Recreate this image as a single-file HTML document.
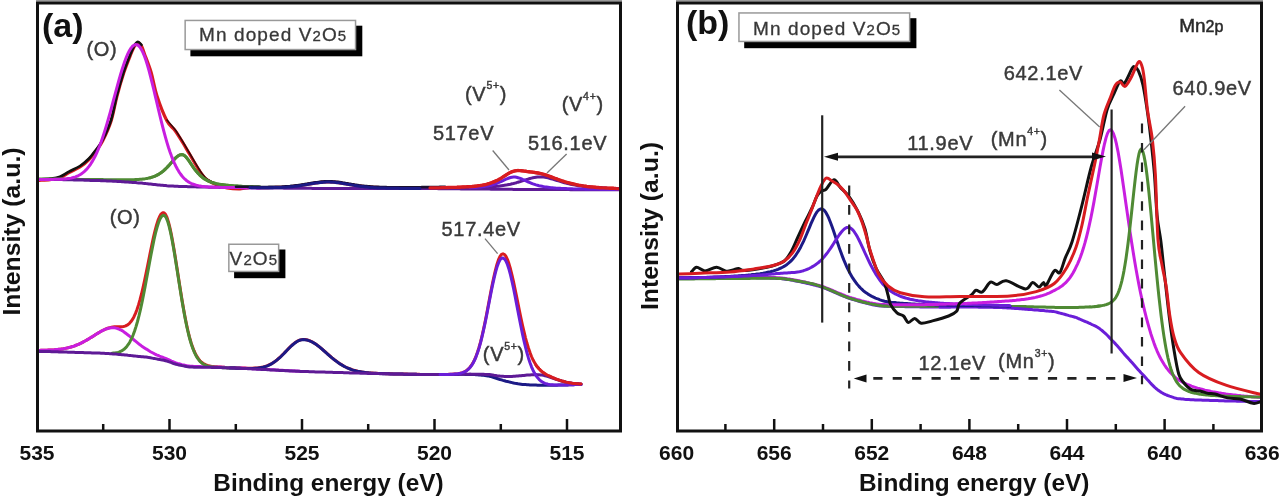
<!DOCTYPE html>
<html><head><meta charset="utf-8"><style>
html,body{margin:0;padding:0;background:#fff;}
body{width:1280px;height:497px;overflow:hidden;position:relative;font-family:"Liberation Sans",sans-serif;}
svg{position:absolute;left:0;top:0;filter:blur(0.35px);}
</style></head><body>
<svg width="1280" height="497" viewBox="0 0 1280 497">
<rect x="0" y="0" width="1280" height="497" fill="#fff"/>
<g fill="none" stroke-width="3" stroke-linejoin="round" stroke-linecap="round">
<path d="M38.0,180.5 C40.0,180.3 46.3,180.1 50.0,179.6 C53.7,179.1 56.8,178.8 60.0,177.6 C63.2,176.4 65.7,174.4 69.0,172.6 C72.3,170.8 76.7,169.2 80.0,167.0 C83.3,164.8 86.3,162.2 89.0,159.5 C91.7,156.8 93.9,153.6 96.2,150.5 C98.5,147.4 100.1,145.9 102.6,141.0 C105.1,136.1 108.7,128.5 111.1,121.0 C113.5,113.5 114.9,104.0 117.0,96.0 C119.1,88.0 121.5,79.8 123.7,73.0 C126.0,66.2 128.7,59.5 130.5,55.0 C132.3,50.5 133.2,48.2 134.5,46.2 C135.8,44.2 136.8,42.8 138.0,42.8 C139.2,42.8 140.4,44.1 141.5,46.0 C142.6,47.9 142.9,49.7 144.5,54.0 C146.1,58.3 148.9,65.0 151.0,72.0 C153.1,79.0 154.3,87.8 157.0,96.0 C159.7,104.2 164.0,115.2 167.0,121.0 C170.0,126.8 172.3,126.8 175.0,130.5 C177.7,134.2 180.6,139.1 183.0,143.0 C185.4,146.9 186.8,149.5 189.5,154.0 C192.2,158.5 196.2,165.8 199.0,170.0 C201.8,174.2 203.2,176.6 206.0,179.0 C208.8,181.4 212.5,183.0 216.0,184.5 C219.5,186.0 223.0,187.1 227.0,187.8 C231.0,188.5 236.2,188.9 240.0,188.8 C243.8,188.7 247.8,187.7 250.0,187.5 C252.2,187.3 252.0,187.5 253.0,187.5 C254.0,187.5 255.0,187.5 256.0,187.5 C257.0,187.5 258.0,187.5 259.0,187.6 C260.0,187.6 261.0,187.6 262.0,187.6 C263.0,187.6 264.0,187.6 265.0,187.6 C266.0,187.6 267.0,187.6 268.0,187.6 C269.0,187.5 270.0,187.5 271.0,187.5 C272.0,187.5 273.0,187.5 274.0,187.5 C275.0,187.5 276.0,187.4 277.0,187.4 C278.0,187.4 279.0,187.4 280.0,187.3 C281.0,187.3 282.0,187.2 283.0,187.2 C284.0,187.1 285.0,187.1 286.0,187.0 C287.0,186.9 288.0,186.9 289.0,186.8 C290.0,186.7 291.0,186.6 292.0,186.5 C293.0,186.4 294.0,186.3 295.0,186.2 C296.0,186.0 297.0,185.9 298.0,185.8 C299.0,185.7 300.0,185.5 301.0,185.4 C302.0,185.2 303.0,185.0 304.0,184.9 C305.0,184.7 306.0,184.5 307.0,184.4 C308.0,184.2 309.0,184.0 310.0,183.9 C311.0,183.7 312.0,183.5 313.0,183.4 C314.0,183.2 315.0,183.0 316.0,182.9 C317.0,182.8 318.0,182.6 319.0,182.5 C320.0,182.4 321.0,182.3 322.0,182.2 C323.0,182.1 324.0,182.0 325.0,182.0 C326.0,181.9 327.0,181.9 328.0,181.9 C329.0,181.9 330.0,181.9 331.0,181.9 C332.0,182.0 333.0,182.0 334.0,182.1 C335.0,182.2 336.0,182.3 337.0,182.4 C338.0,182.5 339.0,182.7 340.0,182.8 C341.0,182.9 342.0,183.1 343.0,183.3 C344.0,183.4 345.0,183.6 346.0,183.8 C347.0,183.9 348.0,184.1 349.0,184.3 C350.0,184.4 351.0,184.6 352.0,184.8 C353.0,184.9 354.0,185.1 355.0,185.3 C356.0,185.4 357.0,185.6 358.0,185.7 C359.0,185.9 360.0,186.0 361.0,186.1 C362.0,186.3 363.0,186.4 364.0,186.5 C365.0,186.6 366.0,186.7 367.0,186.8 C368.0,186.9 369.0,187.0 370.0,187.0 C371.0,187.1 372.0,187.2 373.0,187.3 C374.0,187.3 375.0,187.4 376.0,187.4 C377.0,187.5 378.0,187.5 379.0,187.5 C380.0,187.6 381.0,187.6 382.0,187.6 C383.0,187.7 384.0,187.7 385.0,187.7 C386.0,187.7 387.0,187.8 388.0,187.8 C389.0,187.8 390.0,187.8 391.0,187.8 C392.0,187.8 393.0,187.8 394.0,187.8 C395.0,187.8 396.0,187.8 397.0,187.8 C398.0,187.8 399.0,187.8 400.0,187.8 C401.0,187.8 402.0,187.8 403.0,187.8 C404.0,187.8 405.0,187.8 406.0,187.8 C407.0,187.8 408.0,187.8 409.0,187.8 C410.0,187.8 411.0,187.8 412.0,187.8 C413.0,187.8 414.0,187.8 415.0,187.8 C416.0,187.8 417.0,187.8 418.0,187.8 C419.0,187.8 420.0,187.8 421.0,187.7 C422.0,187.7 423.0,187.7 424.0,187.7 C425.0,187.7 426.0,187.7 427.0,187.7 C428.0,187.7 429.0,187.7 430.0,187.7 C431.0,187.7 432.0,187.6 433.0,187.6 C434.0,187.6 435.0,187.6 436.0,187.6 C437.0,187.6 438.0,187.6 439.0,187.6 C440.0,187.5 441.0,187.5 442.0,187.5 C443.0,187.5 444.0,187.5 445.0,187.5 C446.0,187.4 447.0,187.4 448.0,187.4 C449.0,187.4 450.0,187.4 451.0,187.3 C452.0,187.3 453.0,187.3 454.0,187.3 C455.0,187.2 456.0,187.2 457.0,187.2 C458.0,187.1 459.0,187.1 460.0,187.1 C461.0,187.0 462.0,187.0 463.0,186.9 C464.0,186.9 465.0,186.8 466.0,186.8 C467.0,186.7 468.0,186.7 469.0,186.6 C470.0,186.5 471.0,186.4 472.0,186.4 C473.0,186.3 474.0,186.2 475.0,186.1 C476.0,186.0 477.0,185.9 478.0,185.7 C479.0,185.6 480.0,185.5 481.0,185.3 C482.0,185.1 483.0,185.0 484.0,184.8 C485.0,184.6 486.0,184.3 487.0,184.1 C488.0,183.8 489.0,183.5 490.0,183.2 C491.0,182.9 492.0,182.5 493.0,182.1 C494.0,181.8 495.0,181.3 496.0,180.8 C497.0,180.4 498.0,179.9 499.0,179.3 C500.0,178.8 501.0,178.2 502.0,177.5 C503.0,176.9 504.0,176.3 505.0,175.6 C506.0,175.0 507.0,174.3 508.0,173.7 C509.0,173.1 510.0,172.5 511.0,172.1 C512.0,171.6 513.0,171.3 514.0,171.0 C515.0,170.7 516.0,170.6 517.0,170.5 C518.0,170.4 519.0,170.5 520.0,170.5 C521.0,170.6 522.0,170.7 523.0,170.8 C524.0,171.0 525.0,171.1 526.0,171.2 C527.0,171.4 528.0,171.5 529.0,171.6 C530.0,171.8 531.0,171.9 532.0,172.0 C533.0,172.1 534.0,172.2 535.0,172.4 C536.0,172.5 537.0,172.7 538.0,172.9 C539.0,173.1 540.0,173.3 541.0,173.5 C542.0,173.8 543.0,174.1 544.0,174.3 C545.0,174.6 546.0,175.0 547.0,175.3 C548.0,175.6 549.0,176.0 550.0,176.4 C551.0,176.7 552.0,177.1 553.0,177.5 C554.0,177.9 555.0,178.3 556.0,178.6 C557.0,179.0 558.0,179.4 559.0,179.7 C560.0,180.1 561.0,180.4 562.0,180.8 C563.0,181.1 564.0,181.4 565.0,181.8 C566.0,182.1 567.0,182.4 568.0,182.6 C569.0,182.9 570.0,183.2 571.0,183.4 C572.0,183.7 573.0,183.9 574.0,184.1 C575.0,184.4 576.0,184.6 577.0,184.8 C578.0,185.0 579.0,185.1 580.0,185.3 C581.0,185.5 582.0,185.7 583.0,185.8 C584.0,186.0 585.0,186.1 586.0,186.2 C587.0,186.4 588.0,186.5 589.0,186.6 C590.0,186.7 591.0,186.8 592.0,186.9 C593.0,187.0 594.0,187.1 595.0,187.2 C596.0,187.3 597.0,187.4 598.0,187.4 C599.0,187.5 600.0,187.6 601.0,187.6 C602.0,187.7 603.0,187.8 604.0,187.8 C605.0,187.9 606.0,187.9 607.0,188.0 C608.0,188.0 609.0,188.1 610.0,188.1 C611.0,188.2 612.0,188.2 613.0,188.2 C614.0,188.3 615.0,188.3 616.0,188.4 C617.0,188.4 618.5,188.4 619.0,188.5 C619.5,188.5 619.0,188.5 619.0,188.5" stroke="#d81c20" stroke-width="3.2"/>
<path d="M38.0,179.5 C40.0,179.3 46.3,179.1 50.0,178.6 C53.7,178.1 56.8,177.8 60.0,176.6 C63.2,175.4 65.7,173.4 69.0,171.6 C72.3,169.8 76.7,168.2 80.0,166.0 C83.3,163.8 86.3,161.2 89.0,158.5 C91.7,155.8 93.9,152.6 96.2,149.5 C98.5,146.4 100.1,144.9 102.6,140.0 C105.1,135.1 108.7,127.5 111.1,120.0 C113.5,112.5 114.9,103.0 117.0,95.0 C119.1,87.0 121.5,78.8 123.7,72.0 C126.0,65.2 128.7,58.5 130.5,54.0 C132.3,49.5 133.2,47.2 134.5,45.2 C135.8,43.2 136.8,41.8 138.0,41.8 C139.2,41.8 140.9,44.5 141.5,45.0" stroke="#111" stroke-width="2.6"/>
<path d="M167.0,120.0 C168.3,121.6 172.3,125.8 175.0,129.5 C177.7,133.2 180.6,138.1 183.0,142.0 C185.4,145.9 186.8,148.5 189.5,153.0 C192.2,157.5 196.2,164.8 199.0,169.0 C201.8,173.2 203.2,175.6 206.0,178.0 C208.8,180.4 214.3,182.6 216.0,183.5" stroke="#3a0808" stroke-width="1.6"/>
<path d="M38.0,179.2 L39.5,179.1 L41.0,179.1 L42.5,179.1 L44.0,179.1 L45.5,179.1 L47.0,179.1 L48.5,179.1 L50.0,179.0 L51.5,179.0 L53.0,179.0 L54.5,179.0 L56.0,179.1 L57.5,179.1 L59.0,179.1 L60.5,179.1 L62.0,179.1 L63.5,179.1 L65.0,179.2 L66.5,179.2 L68.0,179.2 L69.5,179.2 L71.0,179.2 L72.5,179.3 L74.0,179.3 L75.5,179.3 L77.0,179.3 L78.5,179.3 L80.0,179.4 L81.5,179.4 L83.0,179.4 L84.5,179.4 L86.0,179.4 L87.5,179.5 L89.0,179.5 L90.5,179.5 L92.0,179.5 L93.5,179.5 L95.0,179.6 L96.5,179.6 L98.0,179.6 L99.5,179.6 L101.0,179.6 L102.5,179.6 L104.0,179.7 L105.5,179.7 L107.0,179.7 L108.5,179.7 L110.0,179.7 L111.5,179.7 L113.0,179.7 L114.5,179.8 L116.0,179.8 L117.5,179.8 L119.0,179.8 L120.5,179.8 L122.0,179.8 L123.5,179.8 L125.0,179.8 L126.5,179.8 L128.0,179.8 L129.5,179.8 L131.0,179.8 L132.5,179.7 L134.0,179.7 L135.5,179.6 L137.0,179.5 L138.5,179.5 L140.0,179.3 L141.5,179.2 L143.0,179.0 L144.5,178.9 L146.0,178.6 L147.5,178.4 L149.0,178.0 L150.5,177.7 L152.0,177.2 L153.5,176.7 L155.0,176.1 L156.5,175.4 L158.0,174.6 L159.5,173.7 L161.0,172.7 L162.5,171.6 L164.0,170.3 L165.5,169.0 L167.0,167.5 L168.5,165.9 L170.0,164.2 L171.5,162.5 L173.0,160.7 L174.5,159.1 L176.0,157.6 L177.5,156.3 L179.0,155.3 L180.5,154.7 L182.0,154.6 L183.5,155.0 L185.0,156.0 L186.5,157.6 L188.0,159.5 L189.5,161.7 L191.0,163.9 L192.5,166.1 L194.0,168.3 L195.5,170.3 L197.0,172.1 L198.5,173.8 L200.0,175.3 L201.5,176.7 L203.0,177.9 L204.5,178.9 L206.0,179.8 L207.5,180.6 L209.0,181.3 L210.5,181.9 L212.0,182.5 L213.5,182.9 L215.0,183.3 L216.5,183.7 L218.0,184.0 L219.5,184.2 L221.0,184.5 L222.5,184.7 L224.0,184.9 L225.5,185.1 L227.0,185.2 L228.5,185.4 L230.0,185.5 L231.5,185.7 L233.0,185.8 L234.5,185.9 L236.0,186.0 L237.5,186.1 L239.0,186.2 L240.5,186.3 L242.0,186.4 L243.5,186.4 L245.0,186.5 L246.5,186.6 L248.0,186.7 L249.5,186.7 L251.0,186.8 L252.5,186.8 L254.0,186.9 L255.5,187.0 L257.0,187.0 L258.5,187.1 L260.0,187.1" stroke="#4f8a34" />
<path d="M38.0,179.5 L39.5,179.5 L41.0,179.5 L42.5,179.5 L44.0,179.5 L45.5,179.5 L47.0,179.5 L48.5,179.5 L50.0,179.5 L51.5,179.5 L53.0,179.5 L54.5,179.5 L56.0,179.5 L57.5,179.5 L59.0,179.6 L60.5,179.6 L62.0,179.6 L63.5,179.7 L65.0,179.7 L66.5,179.7 L68.0,179.7 L69.5,179.8 L71.0,179.8 L72.5,179.8 L74.0,179.9 L75.5,179.9 L77.0,180.0 L78.5,180.0 L80.0,180.0 L81.5,180.1 L83.0,180.1 L84.5,180.2 L86.0,180.2 L87.5,180.3 L89.0,180.3 L90.5,180.4 L92.0,180.4 L93.5,180.4 L95.0,180.5 L96.5,180.5 L98.0,180.6 L99.5,180.6 L101.0,180.7 L102.5,180.7 L104.0,180.8 L105.5,180.8 L107.0,180.9 L108.5,180.9 L110.0,181.0 L111.5,181.1 L113.0,181.2 L114.5,181.3 L116.0,181.3 L117.5,181.4 L119.0,181.5 L120.5,181.6 L122.0,181.7 L123.5,181.8 L125.0,181.9 L126.5,182.0 L128.0,182.1 L129.5,182.2 L131.0,182.3 L132.5,182.4 L134.0,182.5 L135.5,182.6 L137.0,182.8 L138.5,182.9 L140.0,183.0 L141.5,183.1 L143.0,183.3 L144.5,183.4 L146.0,183.6 L147.5,183.7 L149.0,183.9 L150.5,184.0 L152.0,184.2 L153.5,184.4 L155.0,184.5 L156.5,184.7 L158.0,184.9 L159.5,185.0 L161.0,185.2 L162.5,185.3 L164.0,185.5 L165.5,185.6 L167.0,185.8 L168.5,185.9 L170.0,186.0 L171.5,186.1 L173.0,186.1 L174.5,186.2 L176.0,186.3 L177.5,186.3 L179.0,186.4 L180.5,186.4 L182.0,186.5 L183.5,186.5 L185.0,186.6 L186.5,186.6 L188.0,186.7 L189.5,186.7 L191.0,186.7 L192.5,186.8 L194.0,186.8 L195.5,186.8 L197.0,186.9 L198.5,186.9 L200.0,187.0 L201.5,187.0 L203.0,187.0 L204.5,187.1 L206.0,187.1 L207.5,187.1 L209.0,187.2 L210.5,187.2 L212.0,187.2 L213.5,187.3 L215.0,187.3 L216.5,187.3 L218.0,187.3 L219.5,187.4 L221.0,187.4 L222.5,187.4 L224.0,187.4 L225.5,187.4 L227.0,187.5 L228.5,187.5 L230.0,187.5 L231.5,187.5 L233.0,187.5 L234.5,187.6 L236.0,187.6 L237.5,187.6 L239.0,187.6 L240.5,187.6 L242.0,187.7 L243.5,187.7 L245.0,187.7 L246.5,187.7 L248.0,187.7 L249.5,187.8 L251.0,187.8 L252.5,187.8 L254.0,187.8 L255.5,187.8 L257.0,187.9 L258.5,187.9 L260.0,187.9 L261.5,187.9 L263.0,187.9 L264.5,187.9 L266.0,188.0 L267.5,188.0 L269.0,188.0 L270.5,188.0 L272.0,188.0 L273.5,188.0 L275.0,188.1 L276.5,188.1 L278.0,188.1 L279.5,188.1 L281.0,188.1 L282.5,188.1 L284.0,188.2 L285.5,188.2 L287.0,188.2 L288.5,188.2 L290.0,188.2 L291.5,188.2 L293.0,188.2 L294.5,188.3 L296.0,188.3 L297.5,188.3 L299.0,188.3 L300.5,188.3 L302.0,188.3 L303.5,188.3 L305.0,188.3 L306.5,188.3 L308.0,188.3 L309.5,188.3 L311.0,188.3 L312.5,188.4 L314.0,188.4 L315.5,188.4 L317.0,188.4 L318.5,188.4 L320.0,188.4 L321.5,188.4 L323.0,188.4 L324.5,188.4 L326.0,188.4 L327.5,188.4 L329.0,188.4 L330.5,188.4 L332.0,188.4 L333.5,188.4 L335.0,188.4 L336.5,188.4 L338.0,188.4 L339.5,188.4 L341.0,188.4 L342.5,188.4 L344.0,188.4 L345.5,188.4 L347.0,188.4 L348.5,188.4 L350.0,188.4 L351.5,188.4 L353.0,188.4 L354.5,188.4 L356.0,188.5 L357.5,188.5 L359.0,188.5 L360.5,188.5 L362.0,188.5 L363.5,188.5 L365.0,188.5 L366.5,188.5 L368.0,188.5 L369.5,188.5 L371.0,188.5 L372.5,188.5 L374.0,188.5 L375.5,188.5 L377.0,188.5 L378.5,188.5 L380.0,188.5 L381.5,188.5 L383.0,188.5 L384.5,188.5 L386.0,188.5 L387.5,188.5 L389.0,188.5 L390.5,188.5 L392.0,188.5 L393.5,188.5 L395.0,188.5 L396.5,188.5 L398.0,188.5 L399.5,188.5 L401.0,188.5 L402.5,188.5 L404.0,188.5 L405.5,188.5 L407.0,188.5 L408.5,188.5 L410.0,188.5 L411.5,188.5 L413.0,188.5 L414.5,188.5 L416.0,188.5 L417.5,188.6 L419.0,188.6 L420.5,188.6 L422.0,188.6 L423.5,188.6 L425.0,188.6 L426.5,188.6 L428.0,188.6 L429.5,188.6 L431.0,188.6 L432.5,188.6 L434.0,188.6 L435.5,188.6 L437.0,188.6 L438.5,188.7 L440.0,188.7 L441.5,188.7 L443.0,188.7 L444.5,188.7 L446.0,188.7 L447.5,188.7 L449.0,188.7 L450.5,188.8 L452.0,188.8 L453.5,188.8 L455.0,188.8 L456.5,188.8 L458.0,188.8 L459.5,188.8 L461.0,188.9 L462.5,188.9 L464.0,188.9 L465.5,188.9 L467.0,188.9 L468.5,188.9 L470.0,188.9 L471.5,189.0 L473.0,189.0 L474.5,189.0 L476.0,189.0 L477.5,189.0 L479.0,189.0 L480.5,189.0 L482.0,189.1 L483.5,189.1 L485.0,189.1 L486.5,189.1 L488.0,189.1 L489.5,189.1 L491.0,189.2 L492.5,189.2 L494.0,189.2 L495.5,189.2 L497.0,189.2 L498.5,189.2 L500.0,189.2 L501.5,189.3 L503.0,189.3 L504.5,189.3 L506.0,189.3 L507.5,189.3 L509.0,189.3 L510.5,189.3 L512.0,189.3 L513.5,189.4 L515.0,189.4 L516.5,189.4 L518.0,189.4 L519.5,189.4 L521.0,189.4 L522.5,189.4 L524.0,189.4 L525.5,189.4 L527.0,189.4 L528.5,189.4 L530.0,189.5 L531.5,189.5 L533.0,189.5 L534.5,189.5 L536.0,189.5 L537.5,189.5 L539.0,189.5 L540.5,189.5 L542.0,189.5 L543.5,189.5 L545.0,189.5 L546.5,189.5 L548.0,189.6 L549.5,189.6 L551.0,189.6 L552.5,189.6 L554.0,189.6 L555.5,189.6 L557.0,189.6 L558.5,189.6 L560.0,189.6 L561.5,189.6 L563.0,189.6 L564.5,189.6 L566.0,189.6 L567.5,189.6 L569.0,189.6 L570.5,189.7 L572.0,189.7 L573.5,189.7 L575.0,189.7 L576.5,189.7 L578.0,189.7 L579.5,189.7 L581.0,189.7 L582.5,189.7 L584.0,189.7 L585.5,189.7 L587.0,189.7 L588.5,189.7 L590.0,189.7 L591.5,189.7 L593.0,189.7 L594.5,189.7 L596.0,189.7 L597.5,189.7 L599.0,189.7 L600.5,189.8 L602.0,189.8 L603.5,189.8 L605.0,189.8 L606.5,189.8 L608.0,189.8 L609.5,189.8 L611.0,189.8 L612.5,189.8 L614.0,189.8 L615.5,189.8 L617.0,189.8 L618.5,189.8 L619.0,189.8" stroke="#5e1a96" />
<path d="M150.0,177.8 L151.5,177.4 L153.0,176.9 L154.5,176.3 L156.0,175.7 L157.5,174.9 L159.0,174.1 L160.5,173.1 L162.0,172.0 L163.5,170.8 L165.0,169.4 L166.5,168.0 L168.0,166.4 L169.5,164.8 L171.0,163.1 L172.5,161.3 L174.0,159.6 L175.5,158.0 L177.0,156.7 L178.5,155.6 L180.0,154.9 L181.5,154.6 L183.0,154.8 L184.5,155.6 L186.0,157.0 L187.5,158.9 L189.0,160.9 L190.5,163.2 L192.0,165.4 L193.5,167.6 L195.0,169.6 L196.5,171.5 L198.0,173.3 L199.5,174.8 L201.0,176.2 L202.5,177.5 L204.0,178.6 L205.5,179.5 L207.0,180.4 L208.5,181.1 L210.0,181.7 L211.5,182.3 L213.0,182.8 L214.5,183.2 L216.0,183.6 L217.5,183.9 L219.0,184.2 L220.5,184.4 L222.0,184.6 L223.5,184.8 L225.0,185.0 L226.5,185.2 L228.0,185.3 L229.5,185.5 L231.0,185.6 L232.5,185.7 L234.0,185.9 L235.5,186.0 L237.0,186.1 L238.5,186.2 L240.0,186.3 L241.5,186.3 L243.0,186.4 L244.5,186.5 L246.0,186.6 L247.5,186.6 L249.0,186.7 L250.5,186.8 L252.0,186.8 L253.5,186.9 L255.0,186.9 L256.5,187.0 L258.0,187.0 L259.5,187.1 L260.0,187.1" stroke="#4f8a34" />
<path d="M38.0,179.5 L39.5,179.5 L41.0,179.5 L42.5,179.5 L44.0,179.5 L45.5,179.4 L47.0,179.4 L48.5,179.4 L50.0,179.4 L51.5,179.4 L53.0,179.4 L54.5,179.3 L56.0,179.3 L57.5,179.3 L59.0,179.3 L60.5,179.2 L62.0,179.2 L63.5,179.1 L65.0,178.9 L66.5,178.8 L68.0,178.6 L69.5,178.4 L71.0,178.1 L72.5,177.7 L74.0,177.3 L75.5,176.8 L77.0,176.2 L78.5,175.5 L80.0,174.7 L81.5,173.7 L83.0,172.6 L84.5,171.3 L86.0,169.9 L87.5,168.2 L89.0,166.4 L90.5,164.3 L92.0,161.9 L93.5,159.3 L95.0,156.5 L96.5,153.3 L98.0,149.9 L99.5,146.2 L101.0,142.2 L102.5,137.9 L104.0,133.4 L105.5,128.6 L107.0,123.6 L108.5,118.4 L110.0,113.1 L111.5,107.6 L113.0,102.0 L114.5,96.4 L116.0,90.8 L117.5,85.3 L119.0,79.9 L120.5,74.7 L122.0,69.7 L123.5,65.1 L125.0,60.7 L126.5,56.8 L128.0,53.4 L129.5,50.5 L131.0,48.1 L132.5,46.3 L134.0,45.2 L135.5,44.6 L137.0,44.7 L138.5,45.6 L140.0,47.2 L141.5,49.6 L143.0,52.6 L144.5,56.3 L146.0,60.6 L147.5,65.4 L149.0,70.7 L150.5,76.4 L152.0,82.3 L153.5,88.5 L155.0,94.8 L156.5,101.2 L158.0,107.6 L159.5,114.0 L161.0,120.1 L162.5,126.1 L164.0,131.9 L165.5,137.4 L167.0,142.6 L168.5,147.5 L170.0,152.0 L171.5,156.1 L173.0,159.9 L174.5,163.4 L176.0,166.5 L177.5,169.3 L179.0,171.8 L180.5,174.0 L182.0,176.0 L183.5,177.7 L185.0,179.2 L186.5,180.5 L188.0,181.6 L189.5,182.5 L191.0,183.3 L192.5,184.0 L194.0,184.5 L195.5,185.0 L197.0,185.4 L198.5,185.8 L200.0,186.0 L201.5,186.3 L203.0,186.4 L204.5,186.6 L206.0,186.7 L207.5,186.9 L209.0,187.0 L210.5,187.0 L212.0,187.1 L213.5,187.2 L215.0,187.2 L216.5,187.3 L218.0,187.3 L219.5,187.3 L221.0,187.4 L222.5,187.4 L224.0,187.4 L225.5,187.4 L227.0,187.5 L228.5,187.5 L230.0,187.5 L231.5,187.5 L233.0,187.5 L234.5,187.6 L236.0,187.6 L237.5,187.6 L239.0,187.6 L240.5,187.6 L242.0,187.7 L243.5,187.7 L245.0,187.7 L246.5,187.7 L248.0,187.7 L249.5,187.8 L251.0,187.8 L252.5,187.8 L254.0,187.8 L255.5,187.8 L257.0,187.9 L258.5,187.9 L260.0,187.9" stroke="#c81ee0" />
<path d="M236.0,186.7 L237.5,186.7 L239.0,186.8 L240.5,186.8 L242.0,186.8 L243.5,186.8 L245.0,186.8 L246.5,186.8 L248.0,186.9 L249.5,186.9 L251.0,186.9 L252.5,186.9 L254.0,186.9 L255.5,186.9 L257.0,186.9 L258.5,186.9 L260.0,187.0 L261.5,187.0 L263.0,187.0 L264.5,187.0 L266.0,187.0 L267.5,187.0 L269.0,186.9 L270.5,186.9 L272.0,186.9 L273.5,186.9 L275.0,186.9 L276.5,186.8 L278.0,186.8 L279.5,186.7 L281.0,186.7 L282.5,186.6 L284.0,186.5 L285.5,186.4 L287.0,186.3 L288.5,186.2 L290.0,186.1 L291.5,185.9 L293.0,185.8 L294.5,185.6 L296.0,185.4 L297.5,185.3 L299.0,185.0 L300.5,184.8 L302.0,184.6 L303.5,184.4 L305.0,184.1 L306.5,183.9 L308.0,183.6 L309.5,183.4 L311.0,183.1 L312.5,182.8 L314.0,182.6 L315.5,182.4 L317.0,182.2 L318.5,182.0 L320.0,181.8 L321.5,181.6 L323.0,181.5 L324.5,181.4 L326.0,181.3 L327.5,181.3 L329.0,181.3 L330.5,181.3 L332.0,181.4 L333.5,181.5 L335.0,181.6 L336.5,181.7 L338.0,181.9 L339.5,182.1 L341.0,182.3 L342.5,182.6 L344.0,182.8 L345.5,183.1 L347.0,183.3 L348.5,183.6 L350.0,183.8 L351.5,184.1 L353.0,184.3 L354.5,184.6 L356.0,184.8 L357.5,185.0 L359.0,185.3 L360.5,185.5 L362.0,185.7 L363.5,185.8 L365.0,186.0 L366.5,186.1 L368.0,186.3 L369.5,186.4 L371.0,186.5 L372.5,186.6 L374.0,186.7 L375.5,186.8 L377.0,186.9 L378.5,186.9 L380.0,187.0 L381.5,187.0 L383.0,187.1 L384.5,187.1 L386.0,187.1 L387.5,187.2 L389.0,187.2 L390.5,187.2 L392.0,187.2 L393.5,187.2 L395.0,187.2 L396.5,187.2 L398.0,187.2 L399.5,187.2 L401.0,187.2 L402.5,187.2 L404.0,187.2 L405.5,187.2 L407.0,187.2 L408.5,187.2 L410.0,187.2 L411.5,187.2 L413.0,187.2 L414.5,187.2 L416.0,187.2 L417.5,187.2 L419.0,187.2 L420.5,187.2 L422.0,187.1 L423.5,187.1 L425.0,187.1 L426.5,187.1 L428.0,187.1 L429.5,187.1 L431.0,187.1 L432.5,187.0 L434.0,187.0 L435.5,187.0 L437.0,187.0 L438.5,187.0 L440.0,186.9 L441.5,186.9 L443.0,186.9 L444.5,186.9 L445.0,186.9" stroke="#1a1030" stroke-width="2.6"/>
<path d="M250.0,187.6 L251.5,187.7 L253.0,187.7 L254.5,187.7 L256.0,187.7 L257.5,187.7 L259.0,187.7 L260.5,187.7 L262.0,187.7 L263.5,187.7 L265.0,187.7 L266.5,187.7 L268.0,187.7 L269.5,187.7 L271.0,187.7 L272.5,187.7 L274.0,187.6 L275.5,187.6 L277.0,187.6 L278.5,187.5 L280.0,187.5 L281.5,187.4 L283.0,187.3 L284.5,187.3 L286.0,187.2 L287.5,187.1 L289.0,186.9 L290.5,186.8 L292.0,186.7 L293.5,186.5 L295.0,186.3 L296.5,186.2 L298.0,186.0 L299.5,185.8 L301.0,185.5 L302.5,185.3 L304.0,185.1 L305.5,184.8 L307.0,184.6 L308.5,184.3 L310.0,184.1 L311.5,183.8 L313.0,183.6 L314.5,183.3 L316.0,183.1 L317.5,182.9 L319.0,182.7 L320.5,182.5 L322.0,182.4 L323.5,182.3 L325.0,182.2 L326.5,182.1 L328.0,182.1 L329.5,182.1 L331.0,182.2 L332.5,182.2 L334.0,182.3 L335.5,182.5 L337.0,182.7 L338.5,182.8 L340.0,183.0 L341.5,183.3 L343.0,183.5 L344.5,183.8 L346.0,184.0 L347.5,184.3 L349.0,184.5 L350.5,184.8 L352.0,185.1 L353.5,185.3 L355.0,185.6 L356.5,185.8 L358.0,186.0 L359.5,186.2 L361.0,186.4 L362.5,186.6 L364.0,186.8 L365.5,187.0 L367.0,187.1 L368.5,187.3 L370.0,187.4 L371.5,187.5 L373.0,187.6 L374.5,187.7 L376.0,187.8 L377.5,187.9 L379.0,187.9 L380.5,188.0 L382.0,188.0 L383.5,188.1 L385.0,188.1 L386.5,188.2 L388.0,188.2 L389.5,188.2 L391.0,188.3 L392.5,188.3 L394.0,188.3 L395.5,188.3 L397.0,188.3 L398.5,188.3 L400.0,188.4 L401.5,188.4 L403.0,188.4 L404.5,188.4 L406.0,188.4 L407.5,188.4 L409.0,188.4 L410.5,188.4 L412.0,188.4 L413.5,188.4 L415.0,188.4 L416.5,188.5 L418.0,188.5 L419.5,188.5 L420.0,188.5" stroke="#1c1a86" />
<path d="M470.0,187.8 L471.5,187.8 L473.0,187.7 L474.5,187.7 L476.0,187.6 L477.5,187.6 L479.0,187.5 L480.5,187.5 L482.0,187.4 L483.5,187.4 L485.0,187.3 L486.5,187.2 L488.0,187.1 L489.5,187.0 L491.0,186.9 L492.5,186.8 L494.0,186.6 L495.5,186.5 L497.0,186.3 L498.5,186.2 L500.0,186.0 L501.5,185.8 L503.0,185.6 L504.5,185.3 L506.0,185.1 L507.5,184.8 L509.0,184.5 L510.5,184.2 L512.0,183.8 L513.5,183.5 L515.0,183.1 L516.5,182.7 L518.0,182.2 L519.5,181.8 L521.0,181.3 L522.5,180.9 L524.0,180.4 L525.5,179.9 L527.0,179.4 L528.5,179.0 L530.0,178.5 L531.5,178.1 L533.0,177.7 L534.5,177.4 L536.0,177.2 L537.5,177.0 L539.0,176.9 L540.5,176.9 L542.0,177.0 L543.5,177.1 L545.0,177.3 L546.5,177.6 L548.0,177.9 L549.5,178.3 L551.0,178.7 L552.5,179.1 L554.0,179.5 L555.5,180.0 L557.0,180.5 L558.5,180.9 L560.0,181.4 L561.5,181.8 L563.0,182.3 L564.5,182.7 L566.0,183.1 L567.5,183.5 L569.0,183.8 L570.5,184.2 L572.0,184.5 L573.5,184.8 L575.0,185.1 L576.5,185.4 L578.0,185.7 L579.5,185.9 L581.0,186.1 L582.5,186.3 L584.0,186.5 L585.5,186.7 L587.0,186.9 L588.5,187.1 L590.0,187.2 L591.5,187.4 L593.0,187.5 L594.5,187.6 L596.0,187.7 L597.5,187.8 L599.0,187.9 L600.5,188.0 L602.0,188.1 L603.5,188.2 L605.0,188.2 L606.5,188.3 L608.0,188.4 L609.5,188.4 L611.0,188.5 L612.5,188.5 L614.0,188.6 L615.5,188.6 L617.0,188.7 L618.5,188.7 L619.0,188.7" stroke="#5e1a96" />
<path d="M470.0,187.7 L471.5,187.6 L473.0,187.6 L474.5,187.5 L476.0,187.4 L477.5,187.3 L479.0,187.1 L480.5,187.0 L482.0,186.8 L483.5,186.6 L485.0,186.4 L486.5,186.1 L488.0,185.9 L489.5,185.5 L491.0,185.2 L492.5,184.8 L494.0,184.3 L495.5,183.8 L497.0,183.3 L498.5,182.7 L500.0,182.0 L501.5,181.3 L503.0,180.6 L504.5,179.9 L506.0,179.2 L507.5,178.6 L509.0,178.0 L510.5,177.5 L512.0,177.2 L513.5,177.1 L515.0,177.1 L516.5,177.3 L518.0,177.7 L519.5,178.1 L521.0,178.7 L522.5,179.4 L524.0,180.0 L525.5,180.7 L527.0,181.4 L528.5,182.1 L530.0,182.7 L531.5,183.3 L533.0,183.9 L534.5,184.4 L536.0,184.9 L537.5,185.3 L539.0,185.7 L540.5,186.0 L542.0,186.3 L543.5,186.6 L545.0,186.9 L546.5,187.1 L548.0,187.3 L549.5,187.5 L551.0,187.7 L552.5,187.8 L554.0,187.9 L555.5,188.1 L557.0,188.2 L558.5,188.3 L560.0,188.3 L561.5,188.4 L563.0,188.5 L564.5,188.6 L566.0,188.6 L567.5,188.7 L569.0,188.7 L570.5,188.8 L572.0,188.8 L573.5,188.9 L575.0,188.9 L576.5,189.0 L578.0,189.0 L579.5,189.0 L581.0,189.1 L582.5,189.1 L584.0,189.1 L585.5,189.2 L587.0,189.2 L588.5,189.2 L590.0,189.2 L591.5,189.2 L593.0,189.3 L594.5,189.3 L596.0,189.3 L597.5,189.3 L599.0,189.3 L600.5,189.4 L602.0,189.4 L603.5,189.4 L605.0,189.4 L606.5,189.4 L608.0,189.4 L609.5,189.5 L611.0,189.5 L612.5,189.5 L614.0,189.5 L615.5,189.5 L617.0,189.5 L618.5,189.5 L619.0,189.5" stroke="#6a1ed8" />
<path d="M430.0,187.9 C430.5,187.9 432.0,187.8 433.0,187.8 C434.0,187.8 435.0,187.8 436.0,187.8 C437.0,187.8 438.0,187.8 439.0,187.8 C440.0,187.7 441.0,187.7 442.0,187.7 C443.0,187.7 444.0,187.7 445.0,187.7 C446.0,187.6 447.0,187.6 448.0,187.6 C449.0,187.6 450.0,187.6 451.0,187.5 C452.0,187.5 453.0,187.5 454.0,187.5 C455.0,187.4 456.0,187.4 457.0,187.4 C458.0,187.3 459.0,187.3 460.0,187.3 C461.0,187.2 462.0,187.2 463.0,187.1 C464.0,187.1 465.0,187.0 466.0,187.0 C467.0,186.9 468.0,186.9 469.0,186.8 C470.0,186.7 471.0,186.6 472.0,186.6 C473.0,186.5 474.0,186.4 475.0,186.3 C476.0,186.2 477.0,186.1 478.0,185.9 C479.0,185.8 480.0,185.7 481.0,185.5 C482.0,185.3 483.0,185.2 484.0,185.0 C485.0,184.8 486.0,184.5 487.0,184.3 C488.0,184.0 489.0,183.7 490.0,183.4 C491.0,183.1 492.0,182.7 493.0,182.3 C494.0,182.0 495.0,181.5 496.0,181.0 C497.0,180.6 498.0,180.1 499.0,179.5 C500.0,179.0 501.0,178.4 502.0,177.7 C503.0,177.1 504.0,176.5 505.0,175.8 C506.0,175.2 507.0,174.5 508.0,173.9 C509.0,173.3 510.0,172.7 511.0,172.3 C512.0,171.8 513.0,171.5 514.0,171.2 C515.0,170.9 516.0,170.8 517.0,170.7 C518.0,170.6 519.0,170.7 520.0,170.7 C521.0,170.8 522.0,170.9 523.0,171.0 C524.0,171.2 525.0,171.3 526.0,171.4 C527.0,171.6 528.0,171.7 529.0,171.8 C530.0,172.0 531.0,172.1 532.0,172.2 C533.0,172.3 534.0,172.4 535.0,172.6 C536.0,172.7 537.0,172.9 538.0,173.1 C539.0,173.3 540.0,173.5 541.0,173.7 C542.0,174.0 543.0,174.3 544.0,174.5 C545.0,174.8 546.0,175.2 547.0,175.5 C548.0,175.8 549.0,176.2 550.0,176.6 C551.0,176.9 552.0,177.3 553.0,177.7 C554.0,178.1 555.0,178.5 556.0,178.8 C557.0,179.2 558.0,179.6 559.0,179.9 C560.0,180.3 561.0,180.6 562.0,181.0 C563.0,181.3 564.0,181.6 565.0,182.0 C566.0,182.3 567.0,182.6 568.0,182.8 C569.0,183.1 570.0,183.4 571.0,183.6 C572.0,183.9 573.0,184.1 574.0,184.3 C575.0,184.6 576.0,184.8 577.0,185.0 C578.0,185.2 579.0,185.3 580.0,185.5 C581.0,185.7 582.0,185.9 583.0,186.0 C584.0,186.2 585.0,186.3 586.0,186.4 C587.0,186.6 588.0,186.7 589.0,186.8 C590.0,186.9 591.0,187.0 592.0,187.1 C593.0,187.2 594.0,187.3 595.0,187.4 C596.0,187.5 597.0,187.6 598.0,187.6 C599.0,187.7 600.0,187.8 601.0,187.8 C602.0,187.9 603.0,188.0 604.0,188.0 C605.0,188.1 606.0,188.1 607.0,188.2 C608.0,188.2 609.0,188.3 610.0,188.3 C611.0,188.4 612.0,188.4 613.0,188.4 C614.0,188.5 615.0,188.5 616.0,188.6 C617.0,188.6 618.5,188.6 619.0,188.7" stroke="#d81c20" stroke-width="3.2"/>
<path d="M38.0,350.4 L39.5,350.4 L41.0,350.3 L42.5,350.3 L44.0,350.3 L45.5,350.2 L47.0,350.2 L48.5,350.1 L50.0,350.0 L51.5,350.0 L53.0,349.9 L54.5,349.8 L56.0,349.6 L57.5,349.5 L59.0,349.3 L60.5,349.2 L62.0,348.9 L63.5,348.7 L65.0,348.4 L66.5,348.1 L68.0,347.8 L69.5,347.4 L71.0,347.0 L72.5,346.5 L74.0,346.1 L75.5,345.5 L77.0,344.9 L78.5,344.3 L80.0,343.6 L81.5,342.9 L83.0,342.1 L84.5,341.3 L86.0,340.5 L87.5,339.6 L89.0,338.7 L90.5,337.8 L92.0,336.9 L93.5,335.9 L95.0,334.9 L96.5,334.0 L98.0,333.1 L99.5,332.2 L101.0,331.3 L102.5,330.5 L104.0,329.8 L105.5,329.1 L107.0,328.5 L108.5,328.0 L110.0,327.6 L111.5,327.3 L113.0,327.0 L114.5,326.8 L116.0,326.8 L117.5,326.7 L119.0,326.7 L120.5,326.7 L122.0,326.7 L123.5,326.5 L125.0,326.1 L126.5,325.5 L128.0,324.6 L129.5,323.3 L131.0,321.6 L132.5,319.4 L134.0,316.7 L135.5,313.4 L137.0,309.5 L138.5,304.9 L140.0,299.7 L141.5,294.0 L143.0,287.6 L144.5,280.8 L146.0,273.6 L147.5,266.2 L149.0,258.7 L150.5,251.3 L152.0,244.0 L153.5,237.1 L155.0,230.8 L156.5,225.2 L158.0,220.4 L159.5,216.7 L161.0,214.1 L162.5,212.8 L164.0,212.8 L165.5,214.3 L167.0,217.4 L168.5,222.1 L170.0,228.1 L171.5,235.3 L173.0,243.4 L174.5,252.3 L176.0,261.7 L177.5,271.3 L179.0,281.0 L180.5,290.5 L182.0,299.7 L183.5,308.5 L185.0,316.7 L186.5,324.2 L188.0,331.0 L189.5,337.1 L191.0,342.4 L192.5,346.9 L194.0,350.7 L195.5,354.0 L197.0,356.7 L198.5,358.9 L200.0,360.7 L201.5,362.2 L203.0,363.3 L204.5,364.2 L206.0,364.9 L207.5,365.4 L209.0,365.8 L210.5,366.1 L212.0,366.4 L213.5,366.5 L215.0,366.7 L216.5,366.8 L218.0,366.9 L219.5,367.0 L221.0,367.1 L222.5,367.2 L224.0,367.3 L225.5,367.4 L227.0,367.5 L228.5,367.5 L230.0,367.6 L231.5,367.6 L233.0,367.7 L234.5,367.8 L236.0,367.8 L237.5,367.9 L239.0,367.9 L240.5,368.0 L242.0,368.1 L243.5,368.1 L245.0,368.1 L246.5,368.2 L248.0,368.2 L249.5,368.2 L251.0,368.2 L252.5,368.2 L254.0,368.1 L255.5,368.1 L257.0,367.9 L258.5,367.8 L260.0,367.6 L261.5,367.3 L263.0,367.0 L264.5,366.6 L266.0,366.1 L267.5,365.6 L269.0,364.9 L270.5,364.2 L272.0,363.4 L273.5,362.4 L275.0,361.4 L276.5,360.3 L278.0,359.0 L279.5,357.7 L281.0,356.3 L282.5,354.8 L284.0,353.3 L285.5,351.7 L287.0,350.2 L288.5,348.6 L290.0,347.1 L291.5,345.7 L293.0,344.3 L294.5,343.1 L296.0,342.0 L297.5,341.1 L299.0,340.4 L300.5,339.9 L302.0,339.6 L303.5,339.5 L305.0,339.6 L306.5,339.8 L308.0,340.2 L309.5,340.7 L311.0,341.3 L312.5,342.1 L314.0,343.0 L315.5,343.9 L317.0,345.0 L318.5,346.1 L320.0,347.3 L321.5,348.6 L323.0,349.9 L324.5,351.2 L326.0,352.5 L327.5,353.9 L329.0,355.2 L330.5,356.5 L332.0,357.8 L333.5,359.0 L335.0,360.2 L336.5,361.3 L338.0,362.4 L339.5,363.5 L341.0,364.4 L342.5,365.3 L344.0,366.2 L345.5,367.0 L347.0,367.7 L348.5,368.3 L350.0,368.9 L351.5,369.5 L353.0,370.0 L354.5,370.4 L356.0,370.8 L357.5,371.2 L359.0,371.5 L360.5,371.7 L362.0,372.0 L363.5,372.2 L365.0,372.4 L366.5,372.6 L368.0,372.7 L369.5,372.9 L371.0,373.0 L372.5,373.1 L374.0,373.2 L375.5,373.3 L377.0,373.3 L378.5,373.4 L380.0,373.5 L381.5,373.5 L383.0,373.6 L384.5,373.6 L386.0,373.7 L387.5,373.7 L389.0,373.8 L390.5,373.8 L392.0,373.8 L393.5,373.9 L395.0,373.9 L396.5,373.9 L398.0,374.0 L399.5,374.0 L401.0,374.0 L402.5,374.1 L404.0,374.1 L405.5,374.1 L407.0,374.1 L408.5,374.2 L410.0,374.2 L411.5,374.2 L413.0,374.2 L414.5,374.3 L416.0,374.3 L417.5,374.3 L419.0,374.3 L420.5,374.4 L422.0,374.4 L423.5,374.4 L425.0,374.5 L426.5,374.5 L428.0,374.5 L429.5,374.5 L431.0,374.5 L432.5,374.5 L434.0,374.5 L435.5,374.5 L437.0,374.5 L438.5,374.5 L440.0,374.5 L441.5,374.5 L443.0,374.4 L444.5,374.4 L446.0,374.4 L447.5,374.4 L449.0,374.3 L450.5,374.3 L452.0,374.2 L453.5,374.1 L455.0,374.0 L456.5,373.9 L458.0,373.7 L459.5,373.4 L461.0,373.0 L462.5,372.6 L464.0,372.0 L465.5,371.2 L467.0,370.1 L468.5,368.8 L470.0,367.2 L471.5,365.2 L473.0,362.8 L474.5,359.8 L476.0,356.3 L477.5,352.2 L479.0,347.5 L480.5,342.1 L482.0,336.0 L483.5,329.4 L485.0,322.3 L486.5,314.7 L488.0,306.8 L489.5,298.8 L491.0,290.9 L492.5,283.3 L494.0,276.2 L495.5,269.8 L497.0,264.2 L498.5,259.7 L500.0,256.4 L501.5,254.4 L503.0,253.8 L504.5,254.5 L506.0,256.4 L507.5,259.6 L509.0,263.8 L510.5,269.0 L512.0,275.0 L513.5,281.7 L515.0,288.8 L516.5,296.1 L518.0,303.6 L519.5,311.1 L521.0,318.3 L522.5,325.2 L524.0,331.7 L525.5,337.8 L527.0,343.3 L528.5,348.2 L530.0,352.6 L531.5,356.5 L533.0,359.8 L534.5,362.6 L536.0,365.1 L537.5,367.1 L539.0,368.8 L540.5,370.3 L542.0,371.6 L543.5,372.8 L545.0,373.8 L546.5,374.7 L548.0,375.5 L549.5,376.2 L551.0,376.9 L552.5,377.6 L554.0,378.2 L555.5,378.8 L557.0,379.4 L558.5,379.9 L560.0,380.4 L561.5,380.9 L563.0,381.3 L564.5,381.7 L566.0,382.1 L567.5,382.4 L569.0,382.7 L570.5,382.9 L572.0,383.2 L573.5,383.4 L575.0,383.5 L576.5,383.7 L578.0,383.8 L579.5,383.9 L581.0,384.0" stroke="#d81c20" />
<path d="M440.0,374.5 L441.5,374.5 L443.0,374.5 L444.5,374.5 L446.0,374.5 L447.5,374.5 L449.0,374.4 L450.5,374.4 L452.0,374.4 L453.5,374.4 L455.0,374.4 L456.5,374.4 L458.0,374.4 L459.5,374.3 L461.0,374.3 L462.5,374.3 L464.0,374.3 L465.5,374.4 L467.0,374.4 L468.5,374.4 L470.0,374.4 L471.5,374.5 L473.0,374.5 L474.5,374.6 L476.0,374.7 L477.5,374.8 L479.0,374.9 L480.5,375.0 L482.0,375.2 L483.5,375.3 L485.0,375.5 L486.5,375.7 L488.0,375.9 L489.5,376.2 L491.0,376.6 L492.5,377.0 L494.0,377.5 L495.5,378.0 L497.0,378.5 L498.5,379.0 L500.0,379.5 L501.5,379.9 L503.0,380.4 L504.5,380.8 L506.0,381.2 L507.5,381.5 L509.0,381.9 L510.5,382.3 L512.0,382.6 L513.5,383.0 L515.0,383.3 L516.5,383.5 L518.0,383.8 L519.5,384.0 L521.0,384.2 L522.5,384.4 L524.0,384.5 L525.5,384.6 L527.0,384.7 L528.5,384.8 L530.0,384.9 L531.5,385.0 L533.0,385.1 L534.5,385.1 L536.0,385.1 L537.5,385.2 L539.0,385.2 L540.5,385.2 L542.0,385.2 L543.5,385.2 L545.0,385.2 L546.5,385.2 L548.0,385.2 L549.5,385.2 L551.0,385.2 L552.5,385.2 L554.0,385.2 L555.5,385.2 L557.0,385.2 L558.5,385.1 L560.0,385.1 L561.5,385.1 L563.0,385.0 L564.5,385.0 L566.0,384.9 L567.5,384.9 L569.0,384.8 L570.5,384.8 L572.0,384.7 L573.5,384.7 L575.0,384.6 L576.5,384.6 L578.0,384.6 L579.5,384.5 L581.0,384.5" stroke="#1c1a86" />
<path d="M38.0,350.4 L39.5,350.4 L41.0,350.3 L42.5,350.3 L44.0,350.3 L45.5,350.2 L47.0,350.2 L48.5,350.1 L50.0,350.0 L51.5,350.0 L53.0,349.9 L54.5,349.8 L56.0,349.6 L57.5,349.5 L59.0,349.3 L60.5,349.2 L62.0,348.9 L63.5,348.7 L65.0,348.4 L66.5,348.1 L68.0,347.8 L69.5,347.4 L71.0,347.0 L72.5,346.5 L74.0,346.1 L75.5,345.5 L77.0,344.9 L78.5,344.3 L80.0,343.6 L81.5,342.9 L83.0,342.1 L84.5,341.3 L86.0,340.5 L87.5,339.6 L89.0,338.7 L90.5,337.8 L92.0,336.9 L93.5,335.9 L95.0,335.0 L96.5,334.0 L98.0,333.1 L99.5,332.2 L101.0,331.4 L102.5,330.6 L104.0,329.8 L105.5,329.2 L107.0,328.7 L108.5,328.3 L110.0,328.0 L111.5,327.8 L113.0,327.7 L114.5,327.8 L116.0,328.1 L117.5,328.5 L119.0,329.1 L120.5,329.8 L122.0,330.6 L123.5,331.6 L125.0,332.7 L126.5,333.8 L128.0,335.0 L129.5,336.2 L131.0,337.4 L132.5,338.7 L134.0,340.0 L135.5,341.2 L137.0,342.4 L138.5,343.6 L140.0,344.8 L141.5,345.9 L143.0,346.9 L144.5,347.9 L146.0,348.9 L147.5,349.8 L149.0,350.8 L150.5,351.7 L152.0,352.5 L153.5,353.3 L155.0,354.1 L156.5,354.8 L158.0,355.4 L159.5,356.1 L161.0,356.7 L162.5,357.2 L164.0,357.8 L165.5,358.4 L167.0,359.0 L168.5,359.7 L170.0,360.4 L171.5,361.1 L173.0,361.7 L174.5,362.3 L176.0,362.9 L177.5,363.4 L179.0,363.8 L180.5,364.2 L182.0,364.6 L183.5,364.9 L185.0,365.3 L186.5,365.6 L188.0,365.9 L189.5,366.1 L191.0,366.2 L192.5,366.3 L194.0,366.4 L195.5,366.5 L197.0,366.5 L198.5,366.6 L200.0,366.6 L201.5,366.7 L203.0,366.7 L204.5,366.7 L206.0,366.7 L207.5,366.8 L209.0,366.8 L210.5,366.8 L212.0,366.9 L213.5,366.9 L215.0,366.9 L216.5,367.0 L218.0,367.0 L219.5,367.1 L221.0,367.2 L222.5,367.2 L224.0,367.3 L225.5,367.4 L227.0,367.5 L228.5,367.5 L230.0,367.6 L231.5,367.7 L233.0,367.7 L234.5,367.8 L236.0,367.8 L237.5,367.9 L239.0,368.0 L240.5,368.1 L242.0,368.1 L243.5,368.2 L245.0,368.3 L246.5,368.3 L248.0,368.4 L249.5,368.5 L251.0,368.6 L252.5,368.7 L254.0,368.7 L255.5,368.8 L257.0,368.9 L258.5,369.0 L260.0,369.1 L261.5,369.2 L263.0,369.2 L264.5,369.3 L266.0,369.4 L267.5,369.5 L269.0,369.6 L270.5,369.7 L272.0,369.7 L273.5,369.8 L275.0,369.9 L276.5,370.0 L278.0,370.1 L279.5,370.2 L281.0,370.3 L282.5,370.3 L284.0,370.4 L285.5,370.5 L287.0,370.6 L288.5,370.7 L290.0,370.7 L291.5,370.8 L293.0,370.9 L294.5,371.0 L296.0,371.0 L297.5,371.1 L299.0,371.2 L300.0,371.2" stroke="#c81ee0" />
<path d="M112.0,353.2 L113.5,353.1 L115.0,353.0 L116.5,352.7 L118.0,352.4 L119.5,351.9 L121.0,351.2 L122.5,350.4 L124.0,349.3 L125.5,347.9 L127.0,346.2 L128.5,344.2 L130.0,341.7 L131.5,338.7 L133.0,335.3 L134.5,331.2 L136.0,326.6 L137.5,321.5 L139.0,315.7 L140.5,309.3 L142.0,302.4 L143.5,295.0 L145.0,287.2 L146.5,279.1 L148.0,271.0 L149.5,262.8 L151.0,254.8 L152.5,247.1 L154.0,239.8 L155.5,233.2 L157.0,227.5 L158.5,222.7 L160.0,219.0 L161.5,216.5 L163.0,215.3 L164.5,215.5 L166.0,217.4 L167.5,220.9 L169.0,225.8 L170.5,232.1 L172.0,239.5 L173.5,247.8 L175.0,256.8 L176.5,266.2 L178.0,275.8 L179.5,285.3 L181.0,294.7 L182.5,303.8 L184.0,312.3 L185.5,320.2 L187.0,327.5 L188.5,334.0 L190.0,339.8 L191.5,344.7 L193.0,349.0 L194.5,352.6 L196.0,355.7 L197.5,358.2 L199.0,360.2 L200.5,361.9 L202.0,363.2 L203.5,364.2 L205.0,365.0 L206.5,365.6 L208.0,366.1 L209.5,366.5 L211.0,366.7 L212.5,366.9 L214.0,367.1 L215.5,367.2 L217.0,367.3 L218.5,367.4 L220.0,367.5 L221.5,367.6 L223.0,367.7 L224.5,367.8 L226.0,367.8 L227.5,367.9 L229.0,367.9 L230.5,368.0 L232.0,368.0 L233.5,368.1 L235.0,368.1 L236.5,368.2 L238.0,368.3 L239.5,368.3 L240.0,368.3" stroke="#4f8a34" />
<path d="M230.0,368.0 L231.5,368.0 L233.0,368.1 L234.5,368.1 L236.0,368.2 L237.5,368.2 L239.0,368.3 L240.5,368.3 L242.0,368.4 L243.5,368.4 L245.0,368.4 L246.5,368.5 L248.0,368.5 L249.5,368.5 L251.0,368.5 L252.5,368.4 L254.0,368.4 L255.5,368.3 L257.0,368.2 L258.5,368.0 L260.0,367.8 L261.5,367.5 L263.0,367.2 L264.5,366.8 L266.0,366.4 L267.5,365.8 L269.0,365.2 L270.5,364.4 L272.0,363.6 L273.5,362.6 L275.0,361.6 L276.5,360.4 L278.0,359.2 L279.5,357.9 L281.0,356.5 L282.5,355.0 L284.0,353.5 L285.5,351.9 L287.0,350.3 L288.5,348.8 L290.0,347.3 L291.5,345.8 L293.0,344.5 L294.5,343.3 L296.0,342.2 L297.5,341.3 L299.0,340.5 L300.5,340.0 L302.0,339.7 L303.5,339.6 L305.0,339.7 L306.5,339.9 L308.0,340.3 L309.5,340.8 L311.0,341.5 L312.5,342.2 L314.0,343.1 L315.5,344.1 L317.0,345.1 L318.5,346.2 L320.0,347.4 L321.5,348.7 L323.0,350.0 L324.5,351.3 L326.0,352.6 L327.5,354.0 L329.0,355.3 L330.5,356.6 L332.0,357.9 L333.5,359.1 L335.0,360.3 L336.5,361.4 L338.0,362.5 L339.5,363.6 L341.0,364.5 L342.5,365.4 L344.0,366.3 L345.5,367.0 L347.0,367.8 L348.5,368.4 L350.0,369.0 L351.5,369.6 L353.0,370.1 L354.5,370.5 L356.0,370.9 L357.5,371.2 L359.0,371.6 L360.5,371.8 L362.0,372.1 L363.5,372.3 L365.0,372.5 L366.5,372.7 L368.0,372.8 L369.5,372.9 L371.0,373.1 L372.5,373.2 L374.0,373.3 L375.5,373.3 L377.0,373.4 L378.5,373.5 L380.0,373.6 L381.5,373.6 L383.0,373.7 L384.5,373.7 L386.0,373.8 L387.5,373.8 L389.0,373.8 L390.5,373.9 L392.0,373.9 L393.5,373.9 L395.0,374.0 L396.5,374.0 L398.0,374.0 L399.5,374.1 L401.0,374.1 L402.5,374.1 L404.0,374.2 L405.5,374.2 L407.0,374.2 L408.5,374.2 L410.0,374.3 L411.5,374.3 L413.0,374.3 L414.5,374.3 L416.0,374.3 L417.5,374.4 L419.0,374.4 L420.0,374.4" stroke="#1c1a86" />
<path d="M38.0,351.4 L39.5,351.4 L41.0,351.5 L42.5,351.5 L44.0,351.5 L45.5,351.5 L47.0,351.6 L48.5,351.6 L50.0,351.6 L51.5,351.7 L53.0,351.7 L54.5,351.8 L56.0,351.8 L57.5,351.8 L59.0,351.9 L60.5,351.9 L62.0,352.0 L63.5,352.0 L65.0,352.1 L66.5,352.1 L68.0,352.2 L69.5,352.2 L71.0,352.2 L72.5,352.3 L74.0,352.3 L75.5,352.4 L77.0,352.4 L78.5,352.5 L80.0,352.5 L81.5,352.6 L83.0,352.6 L84.5,352.7 L86.0,352.7 L87.5,352.7 L89.0,352.8 L90.5,352.8 L92.0,352.9 L93.5,352.9 L95.0,352.9 L96.5,353.0 L98.0,353.0 L99.5,353.1 L101.0,353.2 L102.5,353.2 L104.0,353.3 L105.5,353.4 L107.0,353.5 L108.5,353.6 L110.0,353.7 L111.5,353.8 L113.0,353.9 L114.5,354.0 L116.0,354.1 L117.5,354.3 L119.0,354.4 L120.5,354.5 L122.0,354.7 L123.5,354.8 L125.0,355.0 L126.5,355.1 L128.0,355.3 L129.5,355.4 L131.0,355.6 L132.5,355.7 L134.0,355.9 L135.5,356.1 L137.0,356.2 L138.5,356.4 L140.0,356.5 L141.5,356.7 L143.0,356.8 L144.5,357.0 L146.0,357.1 L147.5,357.3 L149.0,357.6 L150.5,357.8 L152.0,358.1 L153.5,358.4 L155.0,358.6 L156.5,358.9 L158.0,359.2 L159.5,359.4 L161.0,359.7 L162.5,360.0 L164.0,360.3 L165.5,360.7 L167.0,361.1 L168.5,361.7 L170.0,362.2 L171.5,362.7 L173.0,363.3 L174.5,363.8 L176.0,364.2 L177.5,364.6 L179.0,365.0 L180.5,365.3 L182.0,365.6 L183.5,365.9 L185.0,366.2 L186.5,366.5 L188.0,366.7 L189.5,366.9 L191.0,367.0 L192.5,367.1 L194.0,367.2 L195.5,367.2 L197.0,367.2 L198.5,367.2 L200.0,367.3 L201.5,367.3 L203.0,367.3 L204.5,367.3 L206.0,367.3 L207.5,367.3 L209.0,367.3 L210.5,367.3 L212.0,367.4 L213.5,367.4 L215.0,367.4 L216.5,367.4 L218.0,367.5 L219.5,367.5 L221.0,367.6 L222.5,367.7 L224.0,367.7 L225.5,367.8 L227.0,367.9 L228.5,367.9 L230.0,368.0 L231.5,368.0 L233.0,368.1 L234.5,368.1 L236.0,368.2 L237.5,368.2 L239.0,368.3 L240.5,368.4 L242.0,368.4 L243.5,368.5 L245.0,368.6 L246.5,368.6 L248.0,368.7 L249.5,368.8 L251.0,368.8 L252.5,368.9 L254.0,369.0 L255.5,369.1 L257.0,369.2 L258.5,369.2 L260.0,369.3 L261.5,369.4 L263.0,369.5 L264.5,369.5 L266.0,369.6 L267.5,369.7 L269.0,369.8 L270.5,369.9 L272.0,369.9 L273.5,370.0 L275.0,370.1 L276.5,370.2 L278.0,370.3 L279.5,370.4 L281.0,370.4 L282.5,370.5 L284.0,370.6 L285.5,370.7 L287.0,370.7 L288.5,370.8 L290.0,370.9 L291.5,371.0 L293.0,371.0 L294.5,371.1 L296.0,371.2 L297.5,371.3 L299.0,371.3 L300.5,371.4 L302.0,371.5 L303.5,371.5 L305.0,371.6 L306.5,371.6 L308.0,371.6 L309.5,371.7 L311.0,371.7 L312.5,371.8 L314.0,371.8 L315.5,371.9 L317.0,371.9 L318.5,371.9 L320.0,372.0 L321.5,372.0 L323.0,372.1 L324.5,372.1 L326.0,372.2 L327.5,372.2 L329.0,372.3 L330.5,372.3 L332.0,372.3 L333.5,372.4 L335.0,372.4 L336.5,372.5 L338.0,372.5 L339.5,372.6 L341.0,372.6 L342.5,372.6 L344.0,372.7 L345.5,372.7 L347.0,372.8 L348.5,372.8 L350.0,372.9 L351.5,372.9 L353.0,372.9 L354.5,373.0 L356.0,373.0 L357.5,373.1 L359.0,373.1 L360.5,373.2 L362.0,373.2 L363.5,373.2 L365.0,373.3 L366.5,373.3 L368.0,373.4 L369.5,373.4 L371.0,373.4 L372.5,373.5 L374.0,373.5 L375.5,373.5 L377.0,373.6 L378.5,373.6 L380.0,373.7 L381.5,373.7 L383.0,373.7 L384.5,373.8 L386.0,373.8 L387.5,373.8 L389.0,373.9 L390.5,373.9 L392.0,373.9 L393.5,374.0 L395.0,374.0 L396.5,374.0 L398.0,374.0 L399.5,374.1 L401.0,374.1 L402.5,374.1 L404.0,374.2 L405.5,374.2 L407.0,374.2 L408.5,374.2 L410.0,374.3 L411.5,374.3 L413.0,374.3 L414.5,374.3 L416.0,374.3 L417.5,374.4 L419.0,374.4 L420.5,374.4 L422.0,374.5 L423.5,374.5 L425.0,374.5 L426.5,374.5 L428.0,374.5 L429.5,374.6 L431.0,374.6 L432.5,374.6 L434.0,374.6 L435.5,374.6 L437.0,374.6 L438.5,374.5 L440.0,374.5 L441.5,374.5 L443.0,374.5 L444.5,374.5 L446.0,374.5 L447.5,374.4 L449.0,374.4 L450.5,374.4 L452.0,374.4 L453.5,374.4 L455.0,374.3 L456.5,374.3 L458.0,374.3 L459.5,374.3 L461.0,374.3 L462.5,374.2 L464.0,374.2 L465.5,374.2 L467.0,374.2 L468.5,374.2 L470.0,374.1 L471.5,374.2 L473.0,374.2 L474.5,374.2 L476.0,374.2 L477.5,374.2 L479.0,374.2 L480.5,374.3 L482.0,374.3 L483.5,374.3 L485.0,374.4 L486.5,374.4 L488.0,374.4 L489.5,374.5 L491.0,374.7 L492.5,374.9 L494.0,375.2 L495.5,375.4 L497.0,375.7 L498.5,375.9 L500.0,376.1 L501.5,376.2 L503.0,376.3 L504.5,376.4 L506.0,376.4 L507.5,376.4 L509.0,376.4 L510.5,376.4 L512.0,376.4 L513.5,376.3 L515.0,376.2 L516.5,376.1 L518.0,376.0 L519.5,375.8 L521.0,375.7 L522.5,375.5 L524.0,375.4 L525.5,375.2 L527.0,375.1 L528.5,375.0 L530.0,374.9 L531.5,374.8 L533.0,374.7 L534.5,374.7 L536.0,374.6 L537.5,374.7 L539.0,374.8 L540.5,374.9 L542.0,375.1 L543.5,375.4 L545.0,375.7 L546.5,376.1 L548.0,376.6 L549.5,377.0 L551.0,377.5 L552.5,378.0 L554.0,378.5 L555.5,379.1 L557.0,379.6 L558.5,380.1 L560.0,380.5 L561.5,381.0 L563.0,381.4 L564.5,381.8 L566.0,382.1 L567.5,382.4 L569.0,382.7 L570.5,383.0 L572.0,383.2 L573.5,383.4 L575.0,383.5 L576.5,383.7 L578.0,383.8 L579.5,383.9 L581.0,384.0" stroke="#5e1a96" />
<path d="M440.0,374.5 L441.5,374.5 L443.0,374.5 L444.5,374.5 L446.0,374.4 L447.5,374.4 L449.0,374.4 L450.5,374.3 L452.0,374.3 L453.5,374.2 L455.0,374.1 L456.5,374.0 L458.0,373.8 L459.5,373.5 L461.0,373.2 L462.5,372.7 L464.0,372.1 L465.5,371.4 L467.0,370.4 L468.5,369.1 L470.0,367.5 L471.5,365.6 L473.0,363.2 L474.5,360.3 L476.0,356.8 L477.5,352.8 L479.0,348.1 L480.5,342.9 L482.0,336.9 L483.5,330.4 L485.0,323.4 L486.5,316.0 L488.0,308.3 L489.5,300.5 L491.0,292.8 L492.5,285.4 L494.0,278.6 L495.5,272.4 L497.0,267.1 L498.5,262.9 L500.0,259.8 L501.5,258.2 L503.0,257.9 L504.5,258.9 L506.0,261.2 L507.5,264.7 L509.0,269.3 L510.5,274.9 L512.0,281.3 L513.5,288.3 L515.0,295.8 L516.5,303.6 L518.0,311.5 L519.5,319.3 L521.0,326.8 L522.5,334.1 L524.0,340.9 L525.5,347.2 L527.0,353.0 L528.5,358.2 L530.0,362.7 L531.5,366.8 L533.0,370.2 L534.5,373.1 L536.0,375.6 L537.5,377.6 L539.0,379.3 L540.5,380.7 L542.0,381.8 L543.5,382.6 L545.0,383.3 L546.5,383.8 L548.0,384.2 L549.5,384.5 L551.0,384.7 L552.5,384.8 L554.0,384.9 L555.5,385.0 L557.0,385.0 L558.5,385.0 L560.0,385.0 L561.5,385.0 L563.0,385.0 L564.5,384.9 L566.0,384.9 L567.5,384.9 L569.0,384.8 L570.5,384.8 L572.0,384.7 L573.5,384.7 L575.0,384.6 L576.5,384.6 L578.0,384.6 L579.5,384.5 L581.0,384.5" stroke="#6a1ed8" />
<path d="M536.0,365.1 L537.5,367.1 L539.0,368.8 L540.5,370.3 L542.0,371.6 L543.5,372.8 L545.0,373.8 L546.5,374.7 L548.0,375.5 L549.5,376.2 L551.0,376.9 L552.5,377.6 L554.0,378.2 L555.5,378.8 L557.0,379.4 L558.5,379.9 L560.0,380.4 L561.5,380.9 L563.0,381.3 L564.5,381.7 L566.0,382.1 L567.5,382.4 L569.0,382.7 L570.5,382.9 L572.0,383.2 L573.5,383.4 L575.0,383.5 L576.5,383.7 L578.0,383.8 L579.5,383.9 L581.0,384.0" stroke="#d81c20" />
<path d="M679.0,277.6 L680.5,277.6 L682.0,277.6 L683.5,277.6 L685.0,277.6 L686.5,277.6 L688.0,277.6 L689.5,277.6 L691.0,277.5 L692.5,277.5 L694.0,277.5 L695.5,277.5 L697.0,277.5 L698.5,277.5 L700.0,277.5 L701.5,277.5 L703.0,277.5 L704.5,277.4 L706.0,277.4 L707.5,277.4 L709.0,277.4 L710.5,277.4 L712.0,277.4 L713.5,277.4 L715.0,277.3 L716.5,277.3 L718.0,277.3 L719.5,277.3 L721.0,277.3 L722.5,277.3 L724.0,277.3 L725.5,277.2 L727.0,277.2 L728.5,277.2 L730.0,277.2 L731.5,277.2 L733.0,277.2 L734.5,277.2 L736.0,277.2 L737.5,277.2 L739.0,277.2 L740.5,277.2 L742.0,277.2 L743.5,277.2 L745.0,277.2 L746.5,277.2 L748.0,277.2 L749.5,277.2 L751.0,277.2 L752.5,277.2 L754.0,277.2 L755.5,277.2 L757.0,277.2 L758.5,277.3 L760.0,277.3 L761.5,277.3 L763.0,277.3 L764.5,277.4 L766.0,277.4 L767.5,277.4 L769.0,277.5 L770.5,277.5 L772.0,277.5 L773.5,277.6 L775.0,277.6 L776.5,277.7 L778.0,277.7 L779.5,277.8 L781.0,277.9 L782.5,278.1 L784.0,278.2 L785.5,278.4 L787.0,278.7 L788.5,278.9 L790.0,279.1 L791.5,279.4 L793.0,279.6 L794.5,279.9 L796.0,280.2 L797.5,280.5 L799.0,280.8 L800.5,281.1 L802.0,281.4 L803.5,281.7 L805.0,282.0 L806.5,282.4 L808.0,282.7 L809.5,283.1 L811.0,283.4 L812.5,283.8 L814.0,284.1 L815.5,284.5 L817.0,284.9 L818.5,285.2 L820.0,285.6 L821.5,286.1 L823.0,286.6 L824.5,287.2 L826.0,287.8 L827.5,288.4 L829.0,289.0 L830.5,289.6 L832.0,290.2 L833.5,290.9 L835.0,291.5 L836.5,292.2 L838.0,292.8 L839.5,293.4 L841.0,294.0 L842.5,294.6 L844.0,295.2 L845.5,295.8 L847.0,296.3 L848.5,296.9 L850.0,297.4 L851.5,297.8 L853.0,298.3 L854.5,298.7 L856.0,299.2 L857.5,299.6 L859.0,300.0 L860.5,300.5 L862.0,300.9 L863.5,301.2 L865.0,301.6 L866.5,302.0 L868.0,302.3 L869.5,302.7 L871.0,303.0 L872.5,303.3 L874.0,303.6 L875.5,303.8 L877.0,304.1 L878.5,304.3 L880.0,304.5 L881.5,304.6 L883.0,304.6 L884.5,304.6 L886.0,304.7 L887.5,304.7 L889.0,304.7 L890.5,304.7 L892.0,304.8 L893.5,304.8 L895.0,304.8 L896.5,304.8 L898.0,304.8 L899.5,304.8 L900.0,304.8" stroke="#c81ee0" />
<path d="M679.0,278.0 L680.5,278.0 L682.0,278.0 L683.5,278.0 L685.0,278.0 L686.5,278.0 L688.0,278.0 L689.5,278.0 L691.0,278.0 L692.5,278.0 L694.0,278.0 L695.5,278.0 L697.0,278.0 L698.5,278.0 L700.0,277.9 L701.5,277.9 L703.0,277.9 L704.5,277.9 L706.0,277.9 L707.5,277.9 L709.0,277.9 L710.5,277.9 L712.0,277.9 L713.5,277.8 L715.0,277.8 L716.5,277.8 L718.0,277.8 L719.5,277.8 L721.0,277.8 L722.5,277.8 L724.0,277.8 L725.5,277.8 L727.0,277.8 L728.5,277.8 L730.0,277.7 L731.5,277.7 L733.0,277.7 L734.5,277.7 L736.0,277.7 L737.5,277.7 L739.0,277.7 L740.5,277.7 L742.0,277.7 L743.5,277.7 L745.0,277.8 L746.5,277.8 L748.0,277.8 L749.5,277.8 L751.0,277.8 L752.5,277.8 L754.0,277.8 L755.5,277.8 L757.0,277.9 L758.5,277.9 L760.0,277.9 L761.5,277.9 L763.0,278.0 L764.5,278.0 L766.0,278.0 L767.5,278.1 L769.0,278.1 L770.5,278.2 L772.0,278.2 L773.5,278.3 L775.0,278.3 L776.5,278.4 L778.0,278.4 L779.5,278.5 L781.0,278.6 L782.5,278.8 L784.0,279.0 L785.5,279.2 L787.0,279.4 L788.5,279.6 L790.0,279.9 L791.5,280.1 L793.0,280.4 L794.5,280.7 L796.0,281.0 L797.5,281.3 L799.0,281.6 L800.5,281.9 L802.0,282.2 L803.5,282.5 L805.0,282.9 L806.5,283.2 L808.0,283.6 L809.5,283.9 L811.0,284.3 L812.5,284.6 L814.0,285.0 L815.5,285.4 L817.0,285.8 L818.5,286.1 L820.0,286.5 L821.5,287.0 L823.0,287.6 L824.5,288.1 L826.0,288.7 L827.5,289.3 L829.0,289.9 L830.5,290.6 L832.0,291.2 L833.5,291.9 L835.0,292.5 L836.5,293.2 L838.0,293.8 L839.5,294.5 L841.0,295.1 L842.5,295.7 L844.0,296.3 L845.5,296.9 L847.0,297.5 L848.5,298.0 L850.0,298.5 L851.5,299.0 L853.0,299.5 L854.5,299.9 L856.0,300.4 L857.5,300.8 L859.0,301.3 L860.5,301.7 L862.0,302.1 L863.5,302.5 L865.0,302.9 L866.5,303.3 L868.0,303.6 L869.5,304.0 L871.0,304.3 L872.5,304.7 L874.0,305.0 L875.5,305.2 L877.0,305.5 L878.5,305.8 L880.0,306.0 L881.5,306.1 L883.0,306.1 L884.5,306.2 L886.0,306.2 L887.5,306.3 L889.0,306.3 L890.5,306.3 L892.0,306.4 L893.5,306.4 L895.0,306.5 L896.5,306.5 L898.0,306.5 L899.5,306.6 L901.0,306.6 L902.5,306.6 L904.0,306.6 L905.5,306.7 L907.0,306.7 L908.5,306.7 L910.0,306.7 L911.5,306.8 L913.0,306.8 L914.5,306.8 L916.0,306.8 L917.5,306.8 L919.0,306.8 L920.5,306.9 L922.0,306.9 L923.5,306.9 L925.0,306.9 L926.5,306.9 L928.0,306.9 L929.5,306.9 L931.0,306.9 L932.5,306.9 L934.0,306.9 L935.5,306.9 L937.0,307.0 L938.5,307.0 L940.0,307.0 L941.5,307.0 L943.0,307.0 L944.5,307.0 L946.0,307.0 L947.5,307.0 L949.0,307.0 L950.0,307.0" stroke="#6a1ed8" />
<path d="M679.0,279.0 L680.5,279.0 L682.0,278.9 L683.5,278.9 L685.0,278.9 L686.5,278.9 L688.0,278.9 L689.5,278.9 L691.0,278.9 L692.5,278.9 L694.0,278.9 L695.5,278.8 L697.0,278.8 L698.5,278.8 L700.0,278.8 L701.5,278.8 L703.0,278.8 L704.5,278.8 L706.0,278.7 L707.5,278.7 L709.0,278.7 L710.5,278.7 L712.0,278.7 L713.5,278.7 L715.0,278.7 L716.5,278.6 L718.0,278.6 L719.5,278.6 L721.0,278.6 L722.5,278.6 L724.0,278.6 L725.5,278.5 L727.0,278.5 L728.5,278.5 L730.0,278.5 L731.5,278.5 L733.0,278.5 L734.5,278.5 L736.0,278.5 L737.5,278.5 L739.0,278.5 L740.5,278.4 L742.0,278.4 L743.5,278.4 L745.0,278.4 L746.5,278.4 L748.0,278.4 L749.5,278.4 L751.0,278.3 L752.5,278.3 L754.0,278.3 L755.5,278.3 L757.0,278.3 L758.5,278.2 L760.0,278.2 L761.5,278.2 L763.0,278.2 L764.5,278.2 L766.0,278.2 L767.5,278.2 L769.0,278.2 L770.5,278.2 L772.0,278.2 L773.5,278.3 L775.0,278.3 L776.5,278.3 L778.0,278.4 L779.5,278.4 L781.0,278.5 L782.5,278.7 L784.0,278.8 L785.5,279.0 L787.0,279.2 L788.5,279.4 L790.0,279.6 L791.5,279.9 L793.0,280.1 L794.5,280.4 L796.0,280.7 L797.5,281.0 L799.0,281.2 L800.5,281.5 L802.0,281.8 L803.5,282.1 L805.0,282.3 L806.5,282.6 L808.0,282.9 L809.5,283.2 L811.0,283.5 L812.5,283.8 L814.0,284.2 L815.5,284.6 L817.0,285.1 L818.5,285.6 L820.0,286.2 L821.5,286.7 L823.0,287.2 L824.5,287.7 L826.0,288.3 L827.5,288.8 L829.0,289.5 L830.5,290.1 L832.0,290.8 L833.5,291.4 L835.0,292.1 L836.5,292.8 L838.0,293.5 L839.5,294.2 L841.0,294.8 L842.5,295.5 L844.0,296.1 L845.5,296.7 L847.0,297.3 L848.5,297.8 L850.0,298.3 L851.5,298.8 L853.0,299.2 L854.5,299.7 L856.0,300.1 L857.5,300.6 L859.0,301.0 L860.5,301.4 L862.0,301.8 L863.5,302.2 L865.0,302.5 L866.5,302.9 L868.0,303.2 L869.5,303.6 L871.0,303.9 L872.5,304.2 L874.0,304.4 L875.5,304.7 L877.0,305.0 L878.5,305.2 L880.0,305.4 L881.5,305.7 L883.0,305.9 L884.5,306.0 L886.0,306.1 L887.5,306.2 L889.0,306.2 L890.5,306.2 L892.0,306.2 L893.5,306.2 L895.0,306.2 L896.5,306.2 L898.0,306.2 L899.5,306.3 L901.0,306.3 L902.5,306.3 L904.0,306.3 L905.5,306.3 L907.0,306.3 L908.5,306.3 L910.0,306.3 L911.5,306.3 L913.0,306.3 L914.5,306.3 L916.0,306.3 L917.5,306.3 L919.0,306.3 L920.5,306.3 L922.0,306.3 L923.5,306.3 L925.0,306.3 L926.5,306.3 L928.0,306.3 L929.5,306.3 L931.0,306.3 L932.5,306.3 L934.0,306.3 L935.5,306.3 L937.0,306.3 L938.5,306.3 L940.0,306.3 L941.5,306.3 L943.0,306.3 L944.5,306.3 L946.0,306.3 L947.5,306.3 L949.0,306.3 L950.5,306.3 L952.0,306.3 L953.5,306.3 L955.0,306.3 L956.5,306.3 L958.0,306.3 L959.5,306.3 L961.0,306.3 L962.5,306.3 L964.0,306.2 L965.5,306.2 L967.0,306.2 L968.5,306.2 L970.0,306.2 L971.5,306.2 L973.0,306.2 L974.5,306.2 L976.0,306.2 L977.5,306.2 L979.0,306.2 L980.5,306.2 L982.0,306.2 L983.5,306.2 L985.0,306.2 L986.5,306.2 L988.0,306.3 L989.5,306.3 L991.0,306.3 L992.5,306.3 L994.0,306.3 L995.5,306.3 L997.0,306.3 L998.5,306.3 L1000.0,306.3 L1001.5,306.3 L1003.0,306.3 L1004.5,306.3 L1006.0,306.3 L1007.5,306.3 L1009.0,306.3 L1010.5,306.4 L1012.0,306.4 L1013.5,306.4 L1015.0,306.4 L1016.5,306.5 L1018.0,306.5 L1019.5,306.5 L1021.0,306.5 L1022.5,306.6 L1024.0,306.6 L1025.5,306.6 L1027.0,306.7 L1028.5,306.7 L1030.0,306.8 L1031.5,306.8 L1033.0,306.8 L1034.5,306.9 L1036.0,306.9 L1037.5,306.9 L1039.0,307.0 L1040.5,307.0 L1042.0,307.1 L1043.5,307.1 L1045.0,307.1 L1046.5,307.2 L1048.0,307.2 L1049.5,307.2 L1051.0,307.3 L1052.5,307.3 L1054.0,307.3 L1055.5,307.4 L1057.0,307.4 L1058.5,307.4 L1060.0,307.4 L1061.5,307.4 L1063.0,307.5 L1064.5,307.5 L1066.0,307.5 L1067.5,307.5 L1069.0,307.5 L1070.5,307.5 L1072.0,307.5 L1073.5,307.5 L1075.0,307.4 L1076.5,307.4 L1078.0,307.4 L1079.5,307.3 L1081.0,307.3 L1082.5,307.2 L1084.0,307.2 L1085.5,307.1 L1087.0,307.0 L1088.5,306.9 L1090.0,306.8 L1091.5,306.9 L1093.0,306.8 L1094.5,306.7 L1096.0,306.5 L1097.5,306.3 L1099.0,306.1 L1100.0,305.9" stroke="#4f8a34" />
<path d="M940.0,307.0 L941.5,307.0 L943.0,307.0 L944.5,307.0 L946.0,307.0 L947.5,307.0 L949.0,307.0 L950.5,307.0 L952.0,307.0 L953.5,307.0 L955.0,307.0 L956.5,307.0 L958.0,307.0 L959.5,307.0 L961.0,307.0 L962.5,307.0 L964.0,307.0 L965.5,307.1 L967.0,307.1 L968.5,307.1 L970.0,307.1 L971.5,307.1 L973.0,307.1 L974.5,307.1 L976.0,307.1 L977.5,307.1 L979.0,307.2 L980.5,307.2 L982.0,307.2 L983.5,307.2 L985.0,307.2 L986.5,307.2 L988.0,307.3 L989.5,307.3 L991.0,307.3 L992.5,307.3 L994.0,307.4 L995.5,307.4 L997.0,307.4 L998.5,307.5 L1000.0,307.5 L1001.5,307.6 L1003.0,307.7 L1004.5,307.7 L1006.0,307.8 L1007.5,307.9 L1009.0,308.0 L1010.5,308.1 L1012.0,308.2 L1013.5,308.3 L1015.0,308.4 L1016.5,308.5 L1018.0,308.6 L1019.5,308.7 L1021.0,308.8 L1022.5,308.9 L1024.0,309.0 L1025.5,309.2 L1027.0,309.3 L1028.5,309.4 L1030.0,309.5 L1031.5,309.6 L1033.0,309.8 L1034.5,309.9 L1036.0,310.0 L1037.5,310.1 L1039.0,310.3 L1040.5,310.4 L1042.0,310.5 L1043.5,310.6 L1045.0,310.8 L1046.5,310.9 L1048.0,311.1 L1049.5,311.2 L1051.0,311.3 L1052.5,311.5 L1054.0,311.6 L1055.5,311.9 L1057.0,312.3 L1058.5,312.7 L1060.0,313.1 L1061.5,313.5 L1063.0,313.9 L1064.5,314.3 L1066.0,314.7 L1067.5,315.1 L1069.0,315.6 L1070.5,316.0 L1072.0,316.4 L1073.5,316.8 L1075.0,317.2 L1076.5,317.7 L1078.0,318.4 L1079.5,319.0 L1081.0,319.7 L1082.5,320.3 L1084.0,321.0 L1085.5,321.6 L1087.0,322.2 L1088.5,322.9 L1090.0,323.5 L1091.5,324.3 L1093.0,325.0 L1094.5,325.7 L1096.0,326.4 L1097.5,327.2 L1099.0,328.2 L1100.5,329.4 L1102.0,330.5 L1103.5,331.8 L1105.0,333.1 L1106.5,334.5 L1108.0,336.0 L1109.5,337.6 L1111.0,339.2 L1112.5,340.8 L1114.0,342.3 L1115.5,343.9 L1117.0,345.6 L1118.5,347.3 L1120.0,349.0 L1121.5,350.8 L1123.0,352.6 L1124.5,354.4 L1126.0,356.0 L1127.5,357.6 L1129.0,359.3 L1130.5,360.9 L1132.0,362.6 L1133.5,364.3 L1135.0,366.0 L1136.5,367.7 L1138.0,369.4 L1139.5,371.1 L1141.0,372.8 L1142.5,374.3 L1144.0,375.9 L1145.5,377.5 L1147.0,379.2 L1148.5,380.8 L1150.0,382.5 L1151.5,384.1 L1153.0,385.6 L1154.5,387.1 L1156.0,388.5 L1157.5,389.7 L1159.0,390.8 L1160.5,391.9 L1162.0,392.8 L1163.5,393.6 L1165.0,394.3 L1166.5,395.0 L1168.0,395.6 L1169.5,396.2 L1171.0,396.7 L1172.5,397.2 L1174.0,397.7 L1175.5,398.1 L1177.0,398.5 L1178.5,398.7 L1180.0,398.8 L1181.5,399.0 L1183.0,399.1 L1184.5,399.3 L1186.0,399.4 L1187.5,399.5 L1189.0,399.6 L1190.5,399.7 L1192.0,399.8 L1193.5,399.8 L1195.0,399.9 L1196.5,400.0 L1198.0,400.0 L1199.5,400.1 L1201.0,400.1 L1202.5,400.2 L1204.0,400.2 L1205.5,400.3 L1207.0,400.3 L1208.5,400.3 L1210.0,400.4 L1211.5,400.4 L1213.0,400.5 L1214.5,400.5 L1216.0,400.6 L1217.5,400.6 L1219.0,400.7 L1220.5,400.7 L1222.0,400.8 L1223.5,400.8 L1225.0,400.9 L1226.5,400.9 L1228.0,400.9 L1229.5,401.0 L1231.0,401.0 L1232.5,401.1 L1234.0,401.1 L1235.5,401.1 L1237.0,401.2 L1238.5,401.2 L1240.0,401.2 L1241.5,401.2 L1243.0,401.3 L1244.5,401.3 L1246.0,401.3 L1247.5,401.3 L1249.0,401.4 L1250.5,401.4 L1252.0,401.4 L1253.5,401.4 L1255.0,401.4 L1256.5,401.5 L1258.0,401.5 L1259.5,401.5 L1261.0,401.5" stroke="#6a1ed8" />
<path d="M679.0,278.1 L680.5,278.0 L682.0,278.0 L683.5,278.0 L685.0,277.9 L686.5,277.9 L688.0,277.9 L689.5,277.8 L691.0,277.8 L692.5,277.8 L694.0,277.7 L695.5,277.7 L697.0,277.7 L698.5,277.6 L700.0,277.6 L701.5,277.5 L703.0,277.5 L704.5,277.4 L706.0,277.4 L707.5,277.3 L709.0,277.3 L710.5,277.2 L712.0,277.2 L713.5,277.1 L715.0,277.0 L716.5,277.0 L718.0,276.9 L719.5,276.9 L721.0,276.8 L722.5,276.7 L724.0,276.7 L725.5,276.6 L727.0,276.5 L728.5,276.4 L730.0,276.4 L731.5,276.3 L733.0,276.2 L734.5,276.1 L736.0,276.0 L737.5,275.9 L739.0,275.8 L740.5,275.7 L742.0,275.6 L743.5,275.5 L745.0,275.4 L746.5,275.2 L748.0,275.1 L749.5,274.9 L751.0,274.8 L752.5,274.6 L754.0,274.4 L755.5,274.3 L757.0,274.1 L758.5,273.9 L760.0,273.7 L761.5,273.4 L763.0,273.2 L764.5,272.9 L766.0,272.6 L767.5,272.3 L769.0,272.0 L770.5,271.7 L772.0,271.3 L773.5,270.9 L775.0,270.4 L776.5,269.9 L778.0,269.3 L779.5,268.6 L781.0,268.0 L782.5,267.2 L784.0,266.4 L785.5,265.4 L787.0,264.4 L788.5,263.2 L790.0,261.9 L791.5,260.4 L793.0,258.7 L794.5,256.9 L796.0,254.8 L797.5,252.5 L799.0,250.1 L800.5,247.4 L802.0,244.4 L803.5,241.3 L805.0,238.0 L806.5,234.5 L808.0,230.9 L809.5,227.3 L811.0,223.7 L812.5,220.3 L814.0,217.1 L815.5,214.2 L817.0,211.9 L818.5,210.1 L820.0,209.2 L821.5,208.8 L823.0,209.3 L824.5,210.7 L826.0,212.7 L827.5,215.4 L829.0,218.7 L830.5,222.5 L832.0,226.5 L833.5,230.8 L835.0,235.2 L836.5,239.7 L838.0,244.1 L839.5,248.4 L841.0,252.6 L842.5,256.6 L844.0,260.4 L845.5,263.9 L847.0,267.3 L848.5,270.4 L850.0,273.3 L851.5,275.9 L853.0,278.4 L854.5,280.6 L856.0,282.7 L857.5,284.6 L859.0,286.4 L860.5,288.0 L862.0,289.4 L863.5,290.8 L865.0,292.0 L866.5,293.1 L868.0,294.1 L869.5,295.0 L871.0,295.9 L872.5,296.7 L874.0,297.4 L875.5,298.1 L877.0,298.7 L878.5,299.2 L880.0,299.8 L881.5,300.3 L883.0,300.8 L884.5,301.2 L886.0,301.5 L887.5,301.8 L889.0,302.0 L890.5,302.2 L892.0,302.4 L893.5,302.5 L895.0,302.6 L896.5,302.8 L898.0,302.9 L899.5,303.1 L901.0,303.2 L902.5,303.3 L904.0,303.4 L905.5,303.5 L907.0,303.6 L908.5,303.7 L910.0,303.8 L911.5,303.9 L913.0,304.0 L914.5,304.1 L916.0,304.2 L917.5,304.2 L919.0,304.3 L920.5,304.4 L922.0,304.4 L923.5,304.5 L925.0,304.5 L926.5,304.6 L928.0,304.7 L929.5,304.7 L931.0,304.8 L932.5,304.8 L934.0,304.8 L935.5,304.9 L937.0,304.9 L938.5,305.0 L940.0,305.0 L941.5,305.0 L943.0,305.1 L944.5,305.1 L946.0,305.1 L947.5,305.2 L949.0,305.2 L950.5,305.2 L952.0,305.3 L953.5,305.3 L955.0,305.3 L956.5,305.3 L958.0,305.4 L959.5,305.4 L961.0,305.4 L962.5,305.4 L964.0,305.5 L965.5,305.5 L967.0,305.5 L968.5,305.5 L970.0,305.6 L971.5,305.6 L973.0,305.6 L974.5,305.6 L976.0,305.6 L977.5,305.7 L979.0,305.7 L980.5,305.7 L982.0,305.7 L983.5,305.8 L985.0,305.8 L986.5,305.8 L988.0,305.8 L989.5,305.8 L991.0,305.9 L992.5,305.9 L994.0,305.9 L995.5,305.9 L997.0,306.0 L998.5,306.0 L1000.0,306.0 L1001.5,306.0 L1003.0,306.1 L1004.5,306.1 L1006.0,306.1 L1007.5,306.2 L1009.0,306.2 L1010.0,306.2" stroke="#1c1a86" />
<path d="M679.0,278.1 L680.5,278.0 L682.0,278.0 L683.5,278.0 L685.0,278.0 L686.5,277.9 L688.0,277.9 L689.5,277.9 L691.0,277.9 L692.5,277.8 L694.0,277.8 L695.5,277.7 L697.0,277.7 L698.5,277.7 L700.0,277.6 L701.5,277.6 L703.0,277.6 L704.5,277.5 L706.0,277.5 L707.5,277.4 L709.0,277.4 L710.5,277.3 L712.0,277.3 L713.5,277.3 L715.0,277.2 L716.5,277.2 L718.0,277.1 L719.5,277.1 L721.0,277.0 L722.5,277.0 L724.0,276.9 L725.5,276.9 L727.0,276.8 L728.5,276.8 L730.0,276.7 L731.5,276.6 L733.0,276.6 L734.5,276.5 L736.0,276.5 L737.5,276.4 L739.0,276.3 L740.5,276.3 L742.0,276.2 L743.5,276.1 L745.0,276.0 L746.5,276.0 L748.0,275.9 L749.5,275.8 L751.0,275.7 L752.5,275.6 L754.0,275.5 L755.5,275.4 L757.0,275.3 L758.5,275.2 L760.0,275.0 L761.5,274.9 L763.0,274.8 L764.5,274.7 L766.0,274.6 L767.5,274.4 L769.0,274.3 L770.5,274.2 L772.0,274.1 L773.5,273.9 L775.0,273.8 L776.5,273.6 L778.0,273.5 L779.5,273.4 L781.0,273.2 L782.5,273.2 L784.0,273.1 L785.5,273.0 L787.0,272.9 L788.5,272.8 L790.0,272.7 L791.5,272.6 L793.0,272.5 L794.5,272.4 L796.0,272.2 L797.5,272.0 L799.0,271.8 L800.5,271.5 L802.0,271.1 L803.5,270.7 L805.0,270.2 L806.5,269.6 L808.0,269.0 L809.5,268.3 L811.0,267.5 L812.5,266.6 L814.0,265.7 L815.5,264.7 L817.0,263.6 L818.5,262.5 L820.0,261.2 L821.5,259.7 L823.0,258.1 L824.5,256.4 L826.0,254.5 L827.5,252.6 L829.0,250.5 L830.5,248.4 L832.0,246.1 L833.5,243.8 L835.0,241.4 L836.5,239.0 L838.0,236.7 L839.5,234.5 L841.0,232.5 L842.5,230.7 L844.0,229.2 L845.5,228.1 L847.0,227.5 L848.5,227.4 L850.0,227.8 L851.5,228.8 L853.0,230.2 L854.5,232.2 L856.0,234.5 L857.5,237.1 L859.0,240.0 L860.5,243.1 L862.0,246.4 L863.5,249.7 L865.0,253.0 L866.5,256.2 L868.0,259.4 L869.5,262.5 L871.0,265.5 L872.5,268.3 L874.0,271.0 L875.5,273.6 L877.0,276.0 L878.5,278.2 L880.0,280.3 L881.5,282.3 L883.0,284.2 L884.5,285.8 L886.0,287.3 L887.5,288.7 L889.0,289.9 L890.5,291.0 L892.0,292.0 L893.5,292.9 L895.0,293.8 L896.5,294.5 L898.0,295.2 L899.5,295.9 L901.0,296.5 L902.5,297.0 L904.0,297.5 L905.5,298.0 L907.0,298.4 L908.5,298.8 L910.0,299.2 L911.5,299.5 L913.0,299.8 L914.5,300.1 L916.0,300.4 L917.5,300.6 L919.0,300.9 L920.5,301.1 L922.0,301.3 L923.5,301.5 L925.0,301.7 L926.5,301.9 L928.0,302.0 L929.5,302.2 L931.0,302.3 L932.5,302.5 L934.0,302.6 L935.5,302.7 L937.0,302.8 L938.5,302.9 L940.0,303.1 L941.5,303.2 L943.0,303.3 L944.5,303.4 L946.0,303.4 L947.5,303.5 L949.0,303.6 L950.5,303.7 L952.0,303.8 L953.5,303.9 L955.0,303.9 L956.5,304.0 L958.0,304.1 L959.5,304.1 L961.0,304.2 L962.5,304.2 L964.0,304.3 L965.5,304.4 L967.0,304.4 L968.5,304.5 L970.0,304.5 L971.5,304.6 L973.0,304.6 L974.5,304.7 L976.0,304.7 L977.5,304.8 L979.0,304.8 L980.5,304.8 L982.0,304.9 L983.5,304.9 L985.0,305.0 L986.5,305.0 L988.0,305.1 L989.5,305.1 L991.0,305.1 L992.5,305.2 L994.0,305.2 L995.5,305.3 L997.0,305.3 L998.5,305.3 L1000.0,305.4 L1001.5,305.4 L1003.0,305.5 L1004.5,305.5 L1006.0,305.5 L1007.5,305.6 L1009.0,305.6 L1010.0,305.7" stroke="#6a1ed8" />
<path d="M890.0,304.7 L891.5,304.8 L893.0,304.8 L894.5,304.8 L896.0,304.8 L897.5,304.8 L899.0,304.8 L900.5,304.8 L902.0,304.8 L903.5,304.8 L905.0,304.8 L906.5,304.8 L908.0,304.8 L909.5,304.8 L911.0,304.8 L912.5,304.8 L914.0,304.8 L915.5,304.8 L917.0,304.8 L918.5,304.8 L920.0,304.7 L921.5,304.7 L923.0,304.7 L924.5,304.7 L926.0,304.6 L927.5,304.6 L929.0,304.6 L930.5,304.6 L932.0,304.5 L933.5,304.5 L935.0,304.5 L936.5,304.4 L938.0,304.4 L939.5,304.3 L941.0,304.3 L942.5,304.3 L944.0,304.2 L945.5,304.2 L947.0,304.1 L948.5,304.1 L950.0,304.0 L951.5,304.0 L953.0,303.9 L954.5,303.9 L956.0,303.8 L957.5,303.8 L959.0,303.7 L960.5,303.7 L962.0,303.6 L963.5,303.5 L965.0,303.5 L966.5,303.4 L968.0,303.3 L969.5,303.3 L971.0,303.2 L972.5,303.1 L974.0,303.1 L975.5,303.0 L977.0,302.9 L978.5,302.8 L980.0,302.7 L981.5,302.7 L983.0,302.6 L984.5,302.5 L986.0,302.4 L987.5,302.3 L989.0,302.2 L990.5,302.1 L992.0,302.0 L993.5,301.9 L995.0,301.8 L996.5,301.7 L998.0,301.6 L999.5,301.5 L1001.0,301.4 L1002.5,301.3 L1004.0,301.2 L1005.5,301.1 L1007.0,301.0 L1008.5,300.9 L1010.0,300.8 L1011.5,300.7 L1013.0,300.5 L1014.5,300.4 L1016.0,300.3 L1017.5,300.1 L1019.0,300.0 L1020.5,299.8 L1022.0,299.6 L1023.5,299.4 L1025.0,299.2 L1026.5,299.0 L1028.0,298.8 L1029.5,298.5 L1031.0,298.3 L1032.5,298.0 L1034.0,297.7 L1035.5,297.4 L1037.0,297.0 L1038.5,296.6 L1040.0,296.2 L1041.5,295.8 L1043.0,295.3 L1044.5,294.8 L1046.0,294.3 L1047.5,293.7 L1049.0,293.1 L1050.5,292.4 L1052.0,291.6 L1053.5,290.8 L1055.0,290.1 L1056.5,289.3 L1058.0,288.5 L1059.5,287.6 L1061.0,286.6 L1062.5,285.5 L1064.0,284.2 L1065.5,282.9 L1067.0,281.3 L1068.5,279.6 L1070.0,277.6 L1071.5,275.4 L1073.0,273.0 L1074.5,270.3 L1076.0,267.2 L1077.5,264.1 L1079.0,260.7 L1080.5,256.8 L1082.0,252.5 L1083.5,247.8 L1085.0,242.7 L1086.5,237.0 L1088.0,230.9 L1089.5,224.2 L1091.0,217.2 L1092.5,209.6 L1094.0,201.6 L1095.5,193.1 L1097.0,184.4 L1098.5,175.7 L1100.0,167.1 L1101.5,158.7 L1103.0,150.9 L1104.5,143.8 L1106.0,137.9 L1107.5,133.4 L1109.0,130.6 L1110.5,129.7 L1112.0,130.9 L1113.5,133.7 L1115.0,138.2 L1116.5,144.2 L1118.0,151.6 L1119.5,160.2 L1121.0,169.6 L1122.5,179.7 L1124.0,190.1 L1125.5,200.7 L1127.0,211.1 L1128.5,221.5 L1130.0,231.6 L1131.5,241.5 L1133.0,251.0 L1134.5,260.2 L1136.0,268.9 L1137.5,277.3 L1139.0,285.2 L1140.5,292.7 L1142.0,299.6 L1143.5,306.2 L1145.0,312.4 L1146.5,318.4 L1148.0,323.9 L1149.5,329.2 L1151.0,334.2 L1152.5,338.8 L1154.0,343.1 L1155.5,347.1 L1157.0,350.8 L1158.5,354.2 L1160.0,357.3 L1161.5,360.1 L1163.0,362.6 L1164.5,365.0 L1166.0,367.2 L1167.5,369.1 L1169.0,371.0 L1170.5,372.7 L1172.0,374.2 L1173.5,375.7 L1175.0,377.1 L1176.5,378.4 L1178.0,379.4 L1179.5,380.4 L1181.0,381.3 L1182.5,382.1 L1184.0,382.9 L1185.5,383.6 L1187.0,384.3 L1188.5,384.9 L1190.0,385.5 L1191.5,386.1 L1193.0,386.6 L1194.5,387.1 L1196.0,387.6 L1197.5,388.1 L1199.0,388.5 L1200.5,388.9 L1202.0,389.3 L1203.5,389.7 L1205.0,390.1 L1206.5,390.4 L1208.0,390.7 L1209.5,391.0 L1211.0,391.4 L1212.5,391.7 L1214.0,391.9 L1215.5,392.2 L1217.0,392.5 L1218.5,392.8 L1220.0,393.0 L1221.5,393.3 L1223.0,393.5 L1224.5,393.7 L1226.0,394.0 L1227.5,394.2 L1229.0,394.4 L1230.5,394.6 L1232.0,394.8 L1233.5,395.0 L1235.0,395.1 L1236.5,395.3 L1238.0,395.5 L1239.5,395.6 L1241.0,395.8 L1242.5,395.9 L1244.0,396.1 L1245.5,396.2 L1247.0,396.3 L1248.5,396.5 L1250.0,396.6 L1251.5,396.7 L1253.0,396.8 L1254.5,396.9 L1256.0,397.0 L1257.5,397.2 L1259.0,397.3 L1260.5,397.4 L1261.0,397.4" stroke="#c81ee0" />
<path d="M1095.0,306.6 L1096.0,306.5 L1097.0,306.4 L1098.0,306.2 L1099.0,306.1 L1100.0,305.9 L1101.0,305.8 L1102.0,305.6 L1103.0,305.4 L1104.0,305.2 L1105.0,304.9 L1106.0,304.7 L1107.0,304.3 L1108.0,304.0 L1109.0,303.5 L1110.0,303.0 L1111.0,302.4 L1112.0,301.7 L1113.0,300.8 L1114.0,299.8 L1115.0,298.6 L1116.0,297.1 L1117.0,295.3 L1118.0,293.1 L1119.0,290.6 L1120.0,287.7 L1121.0,284.2 L1122.0,280.3 L1123.0,275.7 L1124.0,270.6 L1125.0,264.8 L1126.0,258.4 L1127.0,251.3 L1128.0,243.7 L1129.0,235.5 L1130.0,226.8 L1131.0,217.8 L1132.0,208.5 L1133.0,199.1 L1134.0,189.9 L1135.0,181.0 L1136.0,172.6 L1137.0,165.1 L1138.0,158.7 L1139.0,153.8 L1140.0,150.5 L1141.0,149.0 L1142.0,149.6 L1143.0,152.0 L1144.0,155.9 L1145.0,161.1 L1146.0,167.6 L1147.0,175.2 L1148.0,183.7 L1149.0,193.1 L1150.0,203.1 L1151.0,213.6 L1152.0,224.3 L1153.0,235.2 L1154.0,246.2 L1155.0,257.0 L1156.0,267.6 L1157.0,277.9 L1158.0,287.8 L1159.0,297.3 L1160.0,306.2 L1161.0,314.7 L1162.0,322.5 L1163.0,329.9 L1164.0,336.6 L1165.0,342.8 L1166.0,348.4 L1167.0,353.5 L1168.0,358.1 L1169.0,362.2 L1170.0,365.9 L1171.0,369.2 L1172.0,372.1 L1173.0,374.7 L1174.0,377.0 L1175.0,379.0 L1176.0,380.8 L1177.0,382.3 L1178.0,383.7 L1179.0,384.9 L1180.0,386.0 L1181.0,386.9 L1182.0,387.7 L1183.0,388.5 L1184.0,389.1 L1185.0,389.7 L1186.0,390.2 L1187.0,390.7 L1188.0,391.1 L1189.0,391.5 L1190.0,391.9 L1191.0,392.2 L1192.0,392.5 L1193.0,392.8 L1194.0,393.0 L1195.0,393.2 L1196.0,393.4 L1197.0,393.6 L1198.0,393.8 L1199.0,394.0 L1200.0,394.2 L1201.0,394.3 L1202.0,394.4 L1203.0,394.6 L1204.0,394.7 L1205.0,394.8 L1206.0,394.9 L1207.0,395.0 L1208.0,395.1 L1209.0,395.2 L1210.0,395.3 L1211.0,395.4 L1212.0,395.4 L1213.0,395.5 L1214.0,395.6 L1215.0,395.6 L1216.0,395.7 L1217.0,395.8 L1218.0,395.8 L1219.0,395.9 L1220.0,395.9 L1221.0,396.0 L1222.0,396.0 L1223.0,396.1 L1224.0,396.1 L1225.0,396.2 L1226.0,396.2 L1227.0,396.2 L1228.0,396.3 L1229.0,396.3 L1230.0,396.3 L1231.0,396.4 L1232.0,396.4 L1233.0,396.4 L1234.0,396.5 L1235.0,396.5 L1236.0,396.5 L1237.0,396.5 L1238.0,396.6 L1239.0,396.6 L1240.0,396.6 L1241.0,396.6 L1242.0,396.7 L1243.0,396.7 L1244.0,396.7 L1245.0,396.7 L1246.0,396.8 L1247.0,396.8 L1248.0,396.8 L1249.0,396.8 L1250.0,396.8 L1251.0,396.8 L1252.0,396.9 L1253.0,396.9 L1254.0,396.9 L1255.0,396.9 L1256.0,396.9 L1257.0,396.9 L1258.0,397.0 L1259.0,397.0 L1260.0,397.0 L1261.0,397.0" stroke="#4f8a34" />
<path d="M691.5,271.8 C692.4,271.1 694.4,267.5 696.6,267.3 C698.9,267.1 701.7,270.9 705.0,270.9 C708.3,270.9 713.1,267.2 716.6,267.3 C720.1,267.4 723.5,270.8 726.2,271.2 C728.9,271.6 731.0,270.4 733.0,270.0 C735.0,269.6 736.6,268.4 738.4,268.5 C740.2,268.6 740.4,270.5 744.0,270.5 C747.6,270.5 755.3,269.2 760.0,268.5 C764.7,267.8 768.2,267.2 772.2,266.0 C776.2,264.8 781.2,263.3 784.3,261.0 C787.4,258.7 788.8,255.8 791.0,252.0 C793.2,248.2 795.2,243.0 797.5,238.0 C799.8,233.0 802.6,227.0 805.0,222.0 C807.4,217.0 810.0,212.3 812.0,208.0 C814.0,203.7 815.5,198.8 817.0,196.0 C818.5,193.2 819.7,192.1 821.2,191.0 C822.7,189.9 823.9,191.2 826.0,189.3 C828.1,187.4 831.6,180.0 834.0,179.7 C836.4,179.4 838.1,185.0 840.5,187.7 C842.9,190.4 845.6,191.8 848.6,195.8 C851.6,199.8 855.5,206.4 858.2,211.9 C860.9,217.4 863.1,222.7 865.0,229.0 C866.9,235.3 867.9,243.5 869.7,250.0 C871.5,256.5 873.6,262.6 876.0,268.0 C878.4,273.4 882.2,277.7 884.2,282.2 C886.2,286.7 886.9,291.2 888.0,295.0 C889.1,298.8 889.1,301.7 890.6,304.7 C892.1,307.7 894.9,310.9 897.0,312.8 C899.1,314.7 901.6,314.4 903.5,316.0 C905.4,317.6 906.4,322.1 908.3,322.5 C910.2,322.9 912.6,318.3 914.7,318.4 C916.9,318.5 918.2,322.9 921.2,323.3 C924.2,323.7 927.9,322.1 932.5,320.9 C937.1,319.7 944.6,317.6 948.6,316.0 C952.6,314.4 954.7,313.3 956.6,311.2 C958.5,309.1 957.4,305.8 959.8,303.1 C962.2,300.4 968.4,297.2 971.1,295.1 C973.8,293.0 974.1,290.8 976.0,290.3 C977.9,289.8 980.0,293.2 982.4,291.9 C984.8,290.5 988.0,283.4 990.4,282.2 C992.8,281.0 994.2,284.8 996.9,284.6 C999.5,284.4 1001.5,280.1 1006.3,280.8 C1011.0,281.5 1021.0,288.6 1025.4,288.9 C1029.8,289.2 1030.3,282.9 1032.6,282.6 C1034.9,282.3 1037.2,287.0 1039.0,287.0 C1040.8,287.0 1042.3,282.9 1043.5,282.6 C1044.7,282.3 1044.4,287.3 1046.2,285.3 C1048.0,283.3 1052.0,272.9 1054.3,270.8 C1056.6,268.7 1058.0,274.7 1059.8,272.6 C1061.6,270.5 1063.2,263.2 1065.2,258.1 C1067.2,253.0 1069.2,250.8 1072.0,242.0 C1074.8,233.2 1078.8,217.7 1082.0,205.0 C1085.2,192.3 1088.5,176.8 1091.5,166.0 C1094.5,155.2 1097.3,149.3 1099.9,140.0 C1102.5,130.7 1104.7,117.7 1107.0,110.0 C1109.3,102.3 1111.8,98.4 1114.0,93.6 C1116.2,88.8 1118.5,82.7 1120.2,81.0 C1121.9,79.3 1122.4,85.4 1124.4,83.3 C1126.4,81.2 1130.5,71.0 1132.2,68.3 C1133.9,65.6 1133.6,66.6 1134.6,67.0 C1135.6,67.4 1136.9,67.7 1138.3,70.7 C1139.7,73.7 1141.4,77.8 1143.0,85.2 C1144.6,92.6 1146.6,105.9 1147.9,115.0 C1149.2,124.1 1149.9,130.0 1151.0,140.0 C1152.1,150.0 1153.5,162.5 1154.5,175.0 C1155.5,187.5 1156.0,204.2 1157.0,215.0 C1158.0,225.8 1159.5,230.8 1160.7,240.0 C1161.9,249.2 1162.5,256.7 1164.0,270.0 C1165.5,283.3 1168.0,306.7 1169.7,320.0 C1171.4,333.3 1172.5,340.9 1174.0,350.0 C1175.5,359.1 1177.1,368.8 1178.8,374.3 C1180.5,379.8 1181.9,380.4 1184.0,383.0 C1186.1,385.6 1188.7,388.4 1191.4,389.7 C1194.1,391.0 1197.3,390.4 1200.0,391.0 C1202.7,391.6 1205.3,392.9 1207.8,393.4 C1210.3,393.9 1211.7,393.2 1215.0,394.0 C1218.3,394.8 1223.5,397.1 1227.7,397.9 C1231.9,398.7 1235.8,398.1 1240.0,399.0 C1244.2,399.9 1249.7,402.8 1253.0,403.3 C1256.3,403.8 1258.8,402.2 1260.0,402.0" stroke="#111" />
<path d="M679.0,274.0 C682.5,273.9 691.5,273.6 700.0,273.2 C708.5,272.8 721.0,272.6 730.0,271.9 C739.0,271.2 747.1,269.9 754.1,268.9 C761.1,267.9 767.2,267.1 772.2,265.8 C777.2,264.5 780.9,263.2 784.3,261.0 C787.7,258.8 790.1,256.2 792.7,252.6 C795.3,249.0 797.8,244.1 800.0,239.3 C802.2,234.5 804.3,228.0 806.0,223.6 C807.7,219.2 808.6,217.4 810.3,213.0 C812.0,208.6 814.6,201.5 816.4,197.0 C818.2,192.5 819.4,189.1 821.0,186.0 C822.6,182.9 824.3,179.0 826.2,178.2 C828.1,177.4 830.6,180.2 832.5,181.3 C834.4,182.4 835.7,183.0 837.6,184.5 C839.5,186.0 841.3,187.6 843.7,190.5 C846.1,193.4 849.6,198.9 851.8,202.2 C854.0,205.4 855.3,206.7 857.0,210.0 C858.7,213.3 860.4,217.5 862.0,222.0 C863.6,226.5 865.3,232.3 866.6,237.0 C867.9,241.7 868.0,243.8 870.0,250.0 C872.0,256.2 875.6,268.0 878.6,274.0 C881.6,280.0 884.4,282.9 888.0,286.0 C891.6,289.1 894.2,290.9 900.3,292.7 C906.4,294.5 914.4,296.1 924.4,296.7 C934.4,297.3 945.7,296.6 960.0,296.5 C974.3,296.4 997.3,296.7 1010.0,295.9 C1022.7,295.1 1028.8,293.7 1036.2,291.6 C1043.6,289.5 1049.2,287.6 1054.3,283.5 C1059.4,279.4 1063.4,273.2 1067.0,267.2 C1070.6,261.1 1073.5,254.2 1076.0,247.2 C1078.5,240.2 1080.0,233.7 1082.0,225.0 C1084.0,216.3 1085.9,205.0 1088.0,195.0 C1090.1,185.0 1092.6,174.1 1094.5,165.0 C1096.4,155.9 1097.7,148.5 1099.3,140.2 C1100.9,131.9 1102.0,122.2 1103.9,115.0 C1105.8,107.8 1108.6,102.2 1110.5,97.2 C1112.4,92.2 1113.7,87.7 1115.3,85.2 C1116.9,82.7 1118.6,81.9 1120.2,82.1 C1121.8,82.3 1123.2,87.1 1125.0,86.4 C1126.8,85.7 1128.8,81.9 1131.0,77.9 C1133.2,73.9 1136.5,64.2 1138.3,62.2 C1140.1,60.2 1140.9,63.1 1141.9,65.9 C1142.9,68.7 1143.4,71.8 1144.3,79.1 C1145.2,86.4 1146.2,99.8 1147.5,110.0 C1148.8,120.2 1151.1,129.2 1152.4,140.0 C1153.7,150.8 1154.5,158.3 1155.4,175.0 C1156.3,191.7 1156.9,225.0 1158.0,240.0 C1159.1,255.0 1160.7,257.4 1162.0,265.0 C1163.3,272.6 1164.7,277.0 1166.0,285.3 C1167.3,293.6 1168.4,306.4 1169.7,315.0 C1171.0,323.6 1172.2,330.7 1174.0,337.0 C1175.8,343.3 1176.5,346.7 1180.6,352.6 C1184.7,358.5 1191.2,367.1 1198.7,372.5 C1206.2,377.9 1215.6,381.6 1225.9,385.2 C1236.2,388.8 1254.6,392.8 1260.3,394.3" stroke="#d81c20" />
</g>
<rect x="36" y="0" width="586" height="1.6" fill="#999"/>
<rect x="676" y="0" width="587" height="1.6" fill="#999"/>
<g fill="none" stroke="#111" stroke-width="3">
<rect x="37.5" y="3" width="583" height="428"/>
<rect x="677.5" y="3" width="584" height="428"/>
</g>
<g stroke="#111" stroke-width="2.5">
<line x1="169.5" y1="419" x2="169.5" y2="431"/>
<line x1="302.0" y1="419" x2="302.0" y2="431"/>
<line x1="434.5" y1="419" x2="434.5" y2="431"/>
<line x1="567.0" y1="419" x2="567.0" y2="431"/>
<line x1="103.2" y1="424" x2="103.2" y2="431"/>
<line x1="235.8" y1="424" x2="235.8" y2="431"/>
<line x1="368.2" y1="424" x2="368.2" y2="431"/>
<line x1="500.8" y1="424" x2="500.8" y2="431"/>
<line x1="774.2" y1="419" x2="774.2" y2="431"/>
<line x1="871.8" y1="419" x2="871.8" y2="431"/>
<line x1="969.4" y1="419" x2="969.4" y2="431"/>
<line x1="1067.0" y1="419" x2="1067.0" y2="431"/>
<line x1="1164.6" y1="419" x2="1164.6" y2="431"/>
<line x1="725.4" y1="424" x2="725.4" y2="431"/>
<line x1="823.0" y1="424" x2="823.0" y2="431"/>
<line x1="920.6" y1="424" x2="920.6" y2="431"/>
<line x1="1018.2" y1="424" x2="1018.2" y2="431"/>
<line x1="1115.8" y1="424" x2="1115.8" y2="431"/>
<line x1="1213.4" y1="424" x2="1213.4" y2="431"/>
</g>
<g font-family="Liberation Sans" font-weight="bold" font-size="21" fill="#111" text-anchor="middle">
<text x="37.0" y="460">535</text>
<text x="169.5" y="460">530</text>
<text x="302.0" y="460">525</text>
<text x="434.5" y="460">520</text>
<text x="567.0" y="460">515</text>
<text x="676.6" y="460">660</text>
<text x="774.2" y="460">656</text>
<text x="871.8" y="460">652</text>
<text x="969.4" y="460">648</text>
<text x="1067.0" y="460">644</text>
<text x="1164.6" y="460">640</text>
<text x="1262.2" y="460">636</text>
</g>
<g font-family="Liberation Sans" font-weight="bold" font-size="24.4" fill="#111" text-anchor="middle">
<text x="328.5" y="491">Binding energy (eV)</text>
<text x="974.2" y="491">Binding energy (eV)</text>
<text transform="translate(19.8,231.5) rotate(-90)" font-size="24.8">Intensity (a.u.)</text>
<text transform="translate(658.2,226) rotate(-90)" font-size="24.8">Intensity (a.u.)</text>
</g>
<g font-family="Liberation Sans" font-weight="bold" font-size="34" fill="#111">
<text x="42" y="37">(a)</text>
<text x="686" y="33.5">(b)</text>
</g>
<rect x="190.4" y="25.7" width="171.9" height="30.599999999999998" fill="#000"/><rect x="185.15" y="20.45" width="170.4" height="29.099999999999998" fill="#fff" stroke="#999" stroke-width="1.5"/>
<rect x="744.2" y="18.2" width="172.19999999999993" height="30.000000000000004" fill="#000"/><rect x="738.95" y="12.95" width="170.69999999999993" height="28.500000000000004" fill="#fff" stroke="#999" stroke-width="1.5"/>
<rect x="234.1" y="249.5" width="51.29999999999998" height="28.69999999999999" fill="#000"/><rect x="228.85" y="244.25" width="49.79999999999998" height="27.19999999999999" fill="#fff" stroke="#999" stroke-width="1.5"/>
<g font-family="Liberation Sans" fill="#383838" stroke="#383838" stroke-width="0.3" font-size="19" letter-spacing="1.1">
<text x="199" y="41.3">Mn doped V<tspan font-size="15">2</tspan>O<tspan font-size="15">5</tspan></text>
<text x="753" y="34.7">Mn doped V<tspan font-size="15">2</tspan>O<tspan font-size="15">5</tspan></text>
<text x="229.6" y="265.2">V<tspan font-size="15">2</tspan>O<tspan font-size="15">5</tspan></text>
<text x="1179.2" y="32" fill="#2a2a2a" stroke="#2a2a2a" stroke-width="0.5" letter-spacing="0">Mn<tspan font-size="16">2p</tspan></text>
</g>
<g font-family="Liberation Sans" fill="#3a3a3a" stroke="#3a3a3a" stroke-width="0.45" font-size="20" letter-spacing="0.7">
<text x="86.4" y="55.7">(O)</text>
<text x="109.7" y="224.4">(O)</text>
<text x="465" y="100.5">(V<tspan font-size="10.5" dy="-11.5">5+</tspan><tspan dy="11.5">)</tspan></text>
<text x="561.7" y="111">(V<tspan font-size="10.5" dy="-11.5">4+</tspan><tspan dy="11.5">)</tspan></text>
<text x="482.8" y="361">(V<tspan font-size="10.5" dy="-11.5">5+</tspan><tspan dy="11.5">)</tspan></text>
<text x="432.9" y="140">517eV</text>
<text x="527.9" y="149.5">516.1eV</text>
<text x="441.5" y="235.6">517.4eV</text>
<text x="1003.7" y="79.5">642.1eV</text>
<text x="1172.5" y="95.4">640.9eV</text>
<text x="907.2" y="149.6">11.9eV</text>
<text x="990.7" y="146">(Mn<tspan font-size="10.5" dy="-11.5">4+</tspan><tspan dy="11.5">)</tspan></text>
<text x="918.5" y="370.4">12.1eV</text>
<text x="998.1" y="368">(Mn<tspan font-size="10.5" dy="-11.5">3+</tspan><tspan dy="11.5">)</tspan></text>
</g>
<g stroke="#777" stroke-width="1.3">
<line x1="492.7" y1="150.5" x2="509" y2="170"/>
<line x1="566.6" y1="154" x2="547" y2="173"/>
<line x1="485" y1="238.6" x2="497.6" y2="253.7"/>
<line x1="1059.4" y1="90" x2="1099.7" y2="127"/>
<line x1="1185.1" y1="106.3" x2="1144" y2="149.8"/>
</g>
<g stroke="#222" stroke-width="2.2" fill="none">
<line x1="822.2" y1="115.3" x2="822.2" y2="322.6"/>
<line x1="1111.6" y1="109.5" x2="1111.6" y2="353.5"/>
<line x1="849.2" y1="185.6" x2="849.2" y2="388.5" stroke-dasharray="9.6 9.9"/>
<line x1="1142" y1="123.6" x2="1142" y2="384.3" stroke-dasharray="9.6 9.8"/>
<line x1="836" y1="156.8" x2="1094" y2="156.8" stroke-width="2.8"/>
<line x1="873.3" y1="378.4" x2="1123" y2="378.4" stroke-width="2.8" stroke-dasharray="9.2 10.2"/>
</g>
<g fill="#111">
<polygon points="824,156.8 838,152.8 838,160.8"/>
<polygon points="1106,156.6 1092,152.6 1092,160.6"/>
<polygon points="853.7,378.4 866.5,374.4 866.5,382.4"/>
<polygon points="1137,378 1123.5,374 1123.5,382"/>
</g>
</svg>
</body></html>
